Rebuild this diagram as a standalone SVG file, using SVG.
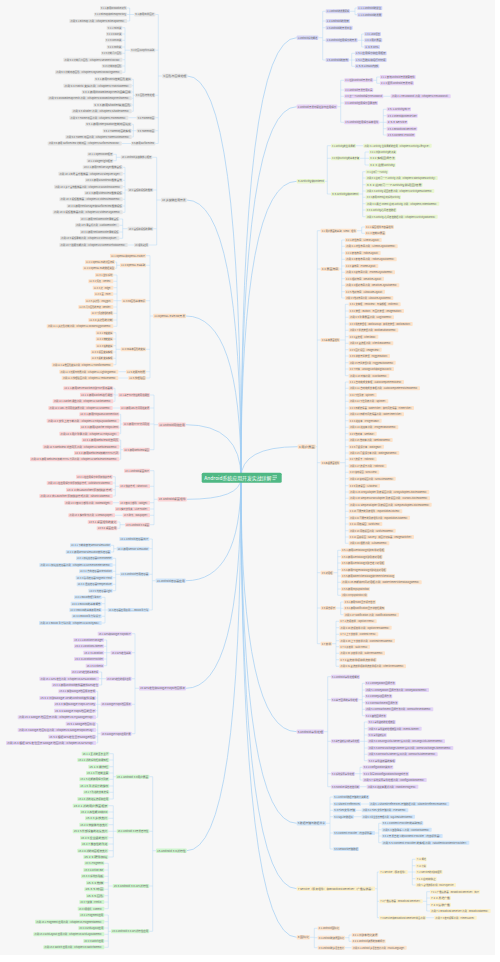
<svg xmlns="http://www.w3.org/2000/svg" width="500" height="962" viewBox="0 0 500 962">
<style>
text{font-family:"Noto Sans CJK SC","Noto Sans",sans-serif;font-size:2.3px;fill:#666}
.c{fill:none;stroke:#9fcdf3;stroke-width:.7}
.b{fill:none;stroke:#b5d8f5;stroke-width:.5}
.k1 rect{fill:#d5d5f6}.k2 rect{fill:#e6d2f6}.k3 rect{fill:#e9f6cf}.k4 rect{fill:#fde2c9}
.k5 rect{fill:#e3d3f6}.k6 rect{fill:#d0e5fa}.k7 rect{fill:#fdf1cb}.k8 rect{fill:#fde4cd}
.k9 rect{fill:#e4e4e4}.k11 rect{fill:#fde2c9}.k12 rect{fill:#fbd3d5}
.k14 rect{fill:#d0e5fa}.k15 rect{fill:#e5d4f7}.k16 rect{fill:#cff6cf}
#center text{font-size:4.9px;fill:#fff}
</style>
<rect width="500" height="962" fill="#fff"/>
<rect width="495" height="955" fill="#f7f7f7"/>
<g id="connectors">
<path class="c" d="M241 478Q241 76 187.3 76M241 478Q241 200 186.7 200M241 478Q241 316 186 316M241 478Q241 424.7 185.7 424.7M241 478Q241 499.3 186.7 499.3M241 478Q241 580.7 185.7 580.7M241 478Q241 688.3 186 688.3M241 478Q241 850.7 186.7 850.7M241 478Q241 37.7 296.7 37.7M241 478Q241 106.7 296.7 106.7M241 478Q241 181.3 296.7 181.3M241 478Q241 446.7 297.7 446.7M241 478Q241 731.7 296.7 731.7M241 478Q241 823.3 296.7 823.3M241 478Q241 888.7 296.7 888.7M241 478Q241 937.3 296.7 937.3"/>
<path class="b" d="M162.3 76H158.3M158.3 14.5V143.5M158.3 14.5H155.3M158.3 50.2H155.3M158.3 95.3H155.3M158.3 117.7H155.3M158.3 130.7H155.3M158.3 143.5H155.3
M134.3 14.5H129.7M129.7 8V21M129.7 8H127M129.7 14.5H127M129.7 21H127
M130.3 50.2H125M125 27.7V72.3M125 27.7H122.3M125 34H122.3M125 40.3H122.3M125 47H122.3M125 53.3H122.3M125 59.7H122.3M125 66H122.3M125 72.3H122.3
M135 95.3H133.3M133.3 79.3V111.3M133.3 79.3H131.7M133.3 85.7H131.7M133.3 92H131.7M133.3 98.3H131.7M133.3 105H131.7M133.3 111.3H131.7
M136.7 117.7H128.3M136.7 130.7H133.3M133.3 124.3V137M133.3 124.3H131.7M133.3 130.7H131.7M133.3 137H131.7M131 143.5H121.7
M161 200H156.7M156.7 157.3V245M156.7 157.3H152.3M156.7 190H153.3M156.7 228.7H153.3M156.7 245H148.7
M120.7 157.3H116.3M116.3 154.3V160.7M116.3 154.3H113.3M116.3 160.7H113.3
M127.7 190H125M125 167.3V212.3M125 167.3H122.7M125 173.7H122.7M125 180.3H122.7M125 186.7H122.7M125 193H122.7M125 199.3H122.7M125 206H122.7M125 212.3H122.7
M127.7 228.7H122.7M122.7 219V238.3M122.7 219H119.3M122.7 225.3H119.3M122.7 232H119.3M122.7 238.3H119.3M134 245H127.7
M153.3 316H150M150 255.7V378M150 255.7H146M150 265.3H146M150 300.7H146M150 349.3H146M150 371.7H146M150 378H146
M120 265.3H116.7M116.7 262V268.3M116.7 262H115M116.7 268.3H115
M121.7 300.7H117M117 275V326.3M117 275H113.3M117 281.3H113.3M117 287.7H113.3M117 294H113.3M117 300.7H113.3M117 307H113.3M117 313.3H113.3M117 320H113.3M117 326.3H113.3
M120.7 349.3H116M116 332.7V364.7M116 332.7H113.3M116 339H113.3M116 345.7H113.3M116 352H113.3M116 358.3H113.3M116 364.7H113.3M126 371.7H118.3M128.3 378H118.3
M158.3 424.7H154M154 395V449.7M154 395H150M154 408H150M154 424H150M154 449.7H150
M118.3 395H115M115 388.3V401.3M115 388.3H113.3M115 394.7H113.3M115 401.3H113.3M120 408H112.7
M122.7 424H120.7M120.7 414.3V433.7M120.7 414.3H119.3M120.7 420.7H119.3M120.7 427.3H119.3M120.7 433.7H119.3
M123.3 449.7H120.7M120.7 440V459.3M120.7 440H119.3M120.7 446.7H119.3M120.7 453H119.3M120.7 459.3H119.3
M157.7 499.3H154M154 470.7V524.7M154 470.7H150M154 486.3H150M154 502.7H150M154 509H150M154 515.3H150M154 524.7H150
M119.3 486.3H115.3M115.3 476.7V496M115.3 476.7H112.7M115.3 483H112.7M115.3 489.7H112.7M115.3 496H112.7M119.3 502.7H112.7M122.7 515.3H115
M125 524.7H120M120 522V528.3M120 522H117.3M120 528.3H117.3
M155.7 580.7H152.3M152.3 539V610M152.3 539H149.3M152.3 548.7H149.3M152.3 574.3H149.3M152.3 610H149.3
M116.7 548.7H113.7M113.7 545.3V552M113.7 545.3H111M113.7 552H111
M120 574.3H115.7M115.7 558.3V590.7M115.7 558.3H112.7M115.7 565H112.7M115.7 571.3H112.7M115.7 577.7H112.7M115.7 584.3H112.7M115.7 590.7H112.7
M107.7 610H105M105 597.3V623M105 597.3H101.7M105 603.7H101.7M105 610H101.7M105 616.3H101.7M105 623H101.7
M139 688.3H135M135 633.7V733.7M135 633.7H131.7M135 652.7H131.7M135 678.7H131.7M135 704.3H131.7M135 733.7H131.7
M110.7 652.7H106.7M106.7 640V665.7M106.7 640H104M106.7 646.3H104M106.7 652.7H104M106.7 659H104M106.7 665.7H104
M106 678.7H101.7M101.7 672V685M101.7 672H99M101.7 678.7H99M101.7 685H99
M100.7 704.3H97.7M97.7 691.3V717.3M97.7 691.3H96M97.7 698H96M97.7 704.3H96M97.7 710.7H96M97.7 717.3H96
M100.7 733.7H97.7M97.7 723.7V743M97.7 723.7H96M97.7 730H96M97.7 736.7H96M97.7 743H96
M156 850.7H152.7M152.7 776.7V931.3M152.7 776.7H149.3M152.7 831.3H149.3M152.7 886H149.3M152.7 931.3H149.3
M116 776.7H113.3M113.3 753.7V799M113.3 753.7H109.3M113.3 760H109.3M113.3 766.7H109.3M113.3 773H109.3M113.3 779.3H109.3M113.3 786H109.3M113.3 792.3H109.3M113.3 799H109.3
M116.7 831.3H113.3M113.3 805.7V857M113.3 805.7H108.3M113.3 812H108.3M113.3 818.3H108.3M113.3 824.7H108.3M113.3 831.3H108.3M113.3 837.7H108.3M113.3 844H108.3M113.3 850.7H108.3M113.3 857H108.3
M112.7 886H108.3M108.3 863.3V908.7M108.3 863.3H104.3M108.3 870H104.3M108.3 876.3H104.3M108.3 882.7H104.3M108.3 889.3H104.3M108.3 895.7H104.3M108.3 902H104.3M108.3 908.7H104.3
M111 931.3H108.3M108.3 915V947.3M108.3 915H104.3M108.3 921.7H104.3M108.3 928H104.3M108.3 934.3H104.3M108.3 941H104.3M108.3 947.3H104.3
M318.3 37.7H322.7M322.7 11.3V60M322.7 11.3H325.7M322.7 21H325.7M322.7 27.7H325.7M322.7 40.3H325.7M322.7 60H325.7
M350 11.3H355M355 8V14.7M355 8H357.3M355 14.7H357.3
M357.7 40.3H361.7M361.7 34V47M361.7 34H364.3M361.7 40.3H364.3M361.7 47H364.3
M349 60H351.7M351.7 53.3V66.3M351.7 53.3H355M351.7 60H355M351.7 66.3H355
M337.3 106.7H340.7M340.7 80.3V122.3M340.7 80.3H344.3M340.7 90H344.3M340.7 96.3H344.3M340.7 103H344.3M340.7 122.3H344.3
M373.3 80.3H376.7M376.7 77V83.3M376.7 77H380M376.7 83.3H380M383.3 96.3H390.7
M379.3 122.3H383.3M383.3 109.3V135M383.3 109.3H386.7M383.3 115.7H386.7M383.3 122.3H386.7M383.3 128.7H386.7M383.3 135H386.7
M325 181.3H327.3M327.3 145.7V194M327.3 145.7H331M327.3 158.3H331M327.3 194H331M356 145.7H363.3
M360 158.3H365M365 152V165M365 152H369M365 158.3H369M365 165H369
M359.3 194H362.7M362.7 171.7V216.7M362.7 171.7H365.7M362.7 178H365.7M362.7 184.7H365.7M362.7 191H365.7M362.7 197.3H365.7M362.7 203.7H365.7M362.7 210H365.7M362.7 216.7H365.7
M315.7 446.7H317.3M317.3 230.7V643.7M317.3 230.7H320.7M317.3 269H320.7M317.3 340H320.7M317.3 462.7H320.7M317.3 572.7H320.7M317.3 608H320.7M317.3 643.7H320.7
M356.7 230.7H361.7M361.7 227V233.3M361.7 227H365M361.7 233.3H365
M339.3 269H341.7M341.7 240V298M341.7 240H345M341.7 246.3H345M341.7 253H345M341.7 259.3H345M341.7 266H345M341.7 272.3H345M341.7 278.7H345M341.7 285.3H345M341.7 291.7H345M341.7 298H345
M340 340H345.3M345.3 304.3V375.7M345.3 304.3H348.7M345.3 311H348.7M345.3 317.3H348.7M345.3 324H348.7M345.3 330.3H348.7M345.3 336.7H348.7M345.3 343.3H348.7M345.3 349.7H348.7M345.3 356H348.7M345.3 362.7H348.7M345.3 369H348.7M345.3 375.7H348.7
M340 462.7H345.3M345.3 382V543.3M345.3 382H348.7M345.3 388.3H348.7M345.3 395H348.7M345.3 401.3H348.7M345.3 408H348.7M345.3 414.3H348.7M345.3 420.7H348.7M345.3 427.3H348.7M345.3 433.7H348.7M345.3 440H348.7M345.3 446.7H348.7M345.3 453H348.7M345.3 459.3H348.7M345.3 466H348.7M345.3 472.3H348.7M345.3 478.7H348.7M345.3 485.7H348.7M345.3 492H348.7M345.3 498.3H348.7M345.3 504.7H348.7M345.3 511.3H348.7M345.3 517.7H348.7M345.3 524H348.7M345.3 530.7H348.7M345.3 537H348.7M345.3 543.3H348.7
M333.3 572.7H337.7M337.7 550.3V595.3M337.7 550.3H341M337.7 556.7H341M337.7 563H341M337.7 569.7H341M337.7 576H341M337.7 582.3H341M337.7 589H341M337.7 595.3H341
M336 608H340.7M340.7 602V614.7M340.7 602H343.7M340.7 608.3H343.7M340.7 614.7H343.7
M332 643.7H336M336 621.3V666.3M336 621.3H339.3M336 627.7H339.3M336 634.3H339.3M336 640.7H339.3M336 646.7H339.3M336 653.3H339.3M336 659.7H339.3M336 666.3H339.3
M324 731.7H327.7M327.7 676.7V786.7M327.7 676.7H331M327.7 699.7H331M327.7 741.3H331M327.7 773.7H331M327.7 786.7H331
M358.3 699.7H362.3M362.3 683.3V715.7M362.3 683.3H365M362.3 690H365M362.3 696.3H365M362.3 702.7H365M362.3 709.3H365M362.3 715.7H365
M360 741.3H364.3M364.3 722V760.7M364.3 722H367.7M364.3 728.7H367.7M364.3 735H367.7M364.3 741.3H367.7M364.3 748H367.7M364.3 754.3H367.7M364.3 760.7H367.7
M355 773.7H360M360 767.3V780M360 767.3H362.7M360 773.7H362.7M360 780H362.7M360 786.7H366.7
M326 823.3H330M330 797V849M330 797H333.3M330 804H333.3M330 810.3H333.3M330 816.7H333.3M330 833H333.3M330 849H333.3
M361 804H369M356 810.3H361.7M354 816.7H361.7
M375 833H378.7M378.7 823.3V842.7M378.7 823.3H381.7M378.7 829.7H381.7M378.7 836H381.7M378.7 842.7H381.7
M375 888.7H377.3M377.3 872V917.7M377.3 872H379.3M377.3 901.3H379.3M377.3 917.7H379.3
M407.7 872H412.3M412.3 859.3V885M412.3 859.3H415.7M412.3 865.7H415.7M412.3 872H415.7M412.3 878.7H415.7M412.3 885H415.7
M422.7 901.3H426.7M426.7 891.7V911M426.7 891.7H430M426.7 898H430M426.7 904.7H430M426.7 911H430M426 917.7H434.3
M310 937.3H314.3M314.3 928.3V947.7M314.3 928.3H317.7M314.3 937.7H317.7M314.3 947.7H317.7
M345 937.7H349M349 935V941.3M349 935H351.7M349 941.3H351.7M345 947.7H351.7"/>
</g>
<g id="nodes">
<g class="k9">
<g id="n9" transform="translate(162.3,76)"><rect y="-2.2" width="25" height="4.4" rx=".8"/><text x="1" y=".8" textLength="23" lengthAdjust="spacingAndGlyphs">9 图形与图像处理</text></g>
<g id="n9-1" transform="translate(134.3,14.5)"><rect y="-2" width="21" height="4" rx=".8"/><text x="1" y=".8" textLength="19" lengthAdjust="spacingAndGlyphs">9.1 使用简单图片</text></g>
<g id="n9-1-1" transform="translate(100,8)"><rect y="-2" width="27" height="4" rx=".8"/><text x="1" y=".8" textLength="25" lengthAdjust="spacingAndGlyphs">9.1.1 使用Drawable对象</text></g>
<g id="n9-1-2" transform="translate(94,14.5)"><rect y="-2" width="33" height="4" rx=".8"/><text x="1" y=".8" textLength="31" lengthAdjust="spacingAndGlyphs">9.1.2 Bitmap和BitmapFactory</text></g>
<g id="e9-1" transform="translate(69.3,21)"><rect y="-2" width="57.7" height="4" rx=".8"/><text x="1" y=".8" textLength="55.7" lengthAdjust="spacingAndGlyphs">范例 9.1 Bitmap 范例（Chapter9/BitmapDemo）</text></g>
<g id="n9-2" transform="translate(130.3,50.2)"><rect y="-2" width="25" height="4" rx=".8"/><text x="1" y=".8" textLength="23" lengthAdjust="spacingAndGlyphs">9.2 绘图(Graphics)基础</text></g>
<g id="n9-2-1" transform="translate(106.7,27.7)"><rect y="-2" width="15.6" height="4" rx=".8"/><text x="1" y=".8" textLength="13.6" lengthAdjust="spacingAndGlyphs">9.2.1 Paint类</text></g>
<g id="n9-2-2" transform="translate(106,34)"><rect y="-2" width="16.3" height="4" rx=".8"/><text x="1" y=".8" textLength="14.3" lengthAdjust="spacingAndGlyphs">9.2.2 Color类</text></g>
<g id="n9-2-3" transform="translate(105,40.3)"><rect y="-2" width="17.3" height="4" rx=".8"/><text x="1" y=".8" textLength="15.3" lengthAdjust="spacingAndGlyphs">9.2.3 Canvas类</text></g>
<g id="n9-2-4" transform="translate(106.7,47)"><rect y="-2" width="15.6" height="4" rx=".8"/><text x="1" y=".8" textLength="13.6" lengthAdjust="spacingAndGlyphs">9.2.4 Path类</text></g>
<g id="n9-2-5" transform="translate(101,53.3)"><rect y="-2" width="21.3" height="4" rx=".8"/><text x="1" y=".8" textLength="19.3" lengthAdjust="spacingAndGlyphs">9.2.5 绘制几何图形</text></g>
<g id="e9-2" transform="translate(63.3,59.7)"><rect y="-2" width="59" height="4" rx=".8"/><text x="1" y=".8" textLength="57" lengthAdjust="spacingAndGlyphs">范例 9.2 绘制几何图形（Chapter9/GeometricDraw）</text></g>
<g id="n9-2-6" transform="translate(101.7,66)"><rect y="-2" width="20.6" height="4" rx=".8"/><text x="1" y=".8" textLength="18.6" lengthAdjust="spacingAndGlyphs">9.2.6 绘制动态图形</text></g>
<g id="e9-3" transform="translate(55,72.3)"><rect y="-2" width="67.3" height="4" rx=".8"/><text x="1" y=".8" textLength="65.3" lengthAdjust="spacingAndGlyphs">范例 9.3 绘制动态图形（Chapter9/DynamicDrawingDemo）</text></g>
<g id="n9-3" transform="translate(135,95.3)"><rect y="-2" width="20.3" height="4" rx=".8"/><text x="1" y=".8" textLength="18.3" lengthAdjust="spacingAndGlyphs">9.3 图形特效处理</text></g>
<g id="n9-3-1" transform="translate(94.3,79.3)"><rect y="-2" width="37.4" height="4" rx=".8"/><text x="1" y=".8" textLength="35.4" lengthAdjust="spacingAndGlyphs">9.3.1 使用Matrix控制图形变换</text></g>
<g id="e9-4" transform="translate(63.3,85.7)"><rect y="-2" width="68.4" height="4" rx=".8"/><text x="1" y=".8" textLength="66.4" lengthAdjust="spacingAndGlyphs">范例 9.4 Matrix 变换范例（Chapter9/MatrixDemo）</text></g>
<g id="n9-3-2" transform="translate(81.7,92)"><rect y="-2" width="50" height="4" rx=".8"/><text x="1" y=".8" textLength="48" lengthAdjust="spacingAndGlyphs">9.3.2 使用drawBitmapMesh扭曲图像</text></g>
<g id="e9-5" transform="translate(47.7,98.3)"><rect y="-2" width="84" height="4" rx=".8"/><text x="1" y=".8" textLength="82" lengthAdjust="spacingAndGlyphs">范例 9.5 DrawBitmapMesh 范例（Chapter9/DrawBitmapMeshDemo）</text></g>
<g id="n9-3-3" transform="translate(93.3,105)"><rect y="-2" width="38.4" height="4" rx=".8"/><text x="1" y=".8" textLength="36.4" lengthAdjust="spacingAndGlyphs">9.3.3 使用Shader填充图形</text></g>
<g id="e9-6" transform="translate(71.7,111.3)"><rect y="-2" width="60" height="4" rx=".8"/><text x="1" y=".8" textLength="58" lengthAdjust="spacingAndGlyphs">范例 9.6 Shader 范例（Chapter9/ShaderDemo）</text></g>
<g id="n9-4" transform="translate(136.7,117.7)"><rect y="-2" width="18.6" height="4" rx=".8"/><text x="1" y=".8" textLength="16.6" lengthAdjust="spacingAndGlyphs">9.4 Frame动画</text></g>
<g id="e9-7" transform="translate(69.3,117.7)"><rect y="-2" width="59" height="4" rx=".8"/><text x="1" y=".8" textLength="57" lengthAdjust="spacingAndGlyphs">范例 9.7 Frame 动画范例（Chapter9/FrameDemo）</text></g>
<g id="n9-5" transform="translate(136.7,130.7)"><rect y="-2" width="18.6" height="4" rx=".8"/><text x="1" y=".8" textLength="16.6" lengthAdjust="spacingAndGlyphs">9.5 Tween动画</text></g>
<g id="n9-5-1" transform="translate(85.3,124.3)"><rect y="-2" width="46.4" height="4" rx=".8"/><text x="1" y=".8" textLength="44.4" lengthAdjust="spacingAndGlyphs">9.5.1 使用Interpolator控制动画速度</text></g>
<g id="n9-5-2" transform="translate(102.7,130.7)"><rect y="-2" width="29" height="4" rx=".8"/><text x="1" y=".8" textLength="27" lengthAdjust="spacingAndGlyphs">9.5.2 Tween动画的实现</text></g>
<g id="e9-8" transform="translate(65.3,137)"><rect y="-2" width="66.4" height="4" rx=".8"/><text x="1" y=".8" textLength="64.4" lengthAdjust="spacingAndGlyphs">范例 9.8 Tween 动画范例（Chapter9/TweenAnimDemo）</text></g>
<g id="n9-6" transform="translate(131,143.5)"><rect y="-2" width="24.3" height="4" rx=".8"/><text x="1" y=".8" textLength="22.3" lengthAdjust="spacingAndGlyphs">9.6 使用SurfaceView</text></g>
<g id="e9-9" transform="translate(47.7,143.5)"><rect y="-2" width="74" height="4" rx=".8"/><text x="1" y=".8" textLength="72" lengthAdjust="spacingAndGlyphs">范例 9.9 使用 SurfaceView 绘制动画（Chapter9/SurfaceViewDraw）</text></g>
<g id="n10" transform="translate(161,200)"><rect y="-2.2" width="25.7" height="4.4" rx=".8"/><text x="1" y=".8" textLength="23.7" lengthAdjust="spacingAndGlyphs">10 多媒体应用开发</text></g>
<g id="n10-1" transform="translate(120.7,157.3)"><rect y="-2" width="31.6" height="4" rx=".8"/><text x="1" y=".8" textLength="29.6" lengthAdjust="spacingAndGlyphs">10.1 Android多媒体核心框架</text></g>
<g id="n10-1-1" transform="translate(87.3,154.3)"><rect y="-2" width="26" height="4" rx=".8"/><text x="1" y=".8" textLength="24" lengthAdjust="spacingAndGlyphs">10.1.1 OpenCORE框架</text></g>
<g id="n10-1-2" transform="translate(86.7,160.7)"><rect y="-2" width="26.6" height="4" rx=".8"/><text x="1" y=".8" textLength="24.6" lengthAdjust="spacingAndGlyphs">10.1.2 StageFright框架</text></g>
<g id="n10-2" transform="translate(127.7,190)"><rect y="-2" width="25.6" height="4" rx=".8"/><text x="1" y=".8" textLength="23.6" lengthAdjust="spacingAndGlyphs">10.2 音频和视频的播放</text></g>
<g id="n10-2-1" transform="translate(82.7,167.3)"><rect y="-2" width="40" height="4" rx=".8"/><text x="1" y=".8" textLength="38" lengthAdjust="spacingAndGlyphs">10.2.1 使用MediaPlayer播放音频</text></g>
<g id="e10-1" transform="translate(58.3,173.7)"><rect y="-2" width="64.4" height="4" rx=".8"/><text x="1" y=".8" textLength="62.4" lengthAdjust="spacingAndGlyphs">范例 10.1 简易音乐播放器（Chapter10/SimplePlayer）</text></g>
<g id="n10-2-2" transform="translate(85,180.3)"><rect y="-2" width="37.7" height="4" rx=".8"/><text x="1" y=".8" textLength="35.7" lengthAdjust="spacingAndGlyphs">10.2.2 使用SoundPool播放音效</text></g>
<g id="e10-2" transform="translate(54,186.7)"><rect y="-2" width="68.7" height="4" rx=".8"/><text x="1" y=".8" textLength="66.7" lengthAdjust="spacingAndGlyphs">范例 10.2 多个音效播放器范例（Chapter10/SoundPoolDemo）</text></g>
<g id="n10-2-3" transform="translate(84.3,193)"><rect y="-2" width="38.4" height="4" rx=".8"/><text x="1" y=".8" textLength="36.4" lengthAdjust="spacingAndGlyphs">10.2.3 使用VideoView播放视频</text></g>
<g id="e10-3" transform="translate(59.3,199.3)"><rect y="-2" width="63.4" height="4" rx=".8"/><text x="1" y=".8" textLength="61.4" lengthAdjust="spacingAndGlyphs">范例 10.3 视频播放器（Chapter10/VideoViewDemo）</text></g>
<g id="n10-2-4" transform="translate(66.7,206)"><rect y="-2" width="56" height="4" rx=".8"/><text x="1" y=".8" textLength="54" lengthAdjust="spacingAndGlyphs">10.2.4 使用MediaPlayer和SurfaceView播放视频</text></g>
<g id="e10-4" transform="translate(52.7,212.3)"><rect y="-2" width="70" height="4" rx=".8"/><text x="1" y=".8" textLength="68" lengthAdjust="spacingAndGlyphs">范例 10.4 视频播放器范例（Chapter10/VideoPlayDemo）</text></g>
<g id="n10-3" transform="translate(127.7,228.7)"><rect y="-2" width="25.6" height="4" rx=".8"/><text x="1" y=".8" textLength="23.6" lengthAdjust="spacingAndGlyphs">10.3 音频和视频的录制</text></g>
<g id="n10-3-1" transform="translate(80,219)"><rect y="-2" width="39.3" height="4" rx=".8"/><text x="1" y=".8" textLength="37.3" lengthAdjust="spacingAndGlyphs">10.3.1 使用MediaRecorder录制音频</text></g>
<g id="e10-5" transform="translate(75,225.3)"><rect y="-2" width="44.3" height="4" rx=".8"/><text x="1" y=".8" textLength="42.3" lengthAdjust="spacingAndGlyphs">范例 10.5 录音机范例（AudioRecorder）</text></g>
<g id="n10-3-2" transform="translate(80,232)"><rect y="-2" width="39.3" height="4" rx=".8"/><text x="1" y=".8" textLength="37.3" lengthAdjust="spacingAndGlyphs">10.3.2 使用MediaRecorder录制视频</text></g>
<g id="e10-6" transform="translate(60,238.3)"><rect y="-2" width="59.3" height="4" rx=".8"/><text x="1" y=".8" textLength="57.3" lengthAdjust="spacingAndGlyphs">范例 10.6 视频录制范例（Chapter10/VideoCapture）</text></g>
<g id="n10-4" transform="translate(134,245)"><rect y="-2" width="14.7" height="4" rx=".8"/><text x="1" y=".8" textLength="12.7" lengthAdjust="spacingAndGlyphs">10.4 摄像头应用</text></g>
<g id="e10-7" transform="translate(59.3,245)"><rect y="-2" width="68.4" height="4" rx=".8"/><text x="1" y=".8" textLength="66.4" lengthAdjust="spacingAndGlyphs">范例 10.7 拍照功能范例（Chapter10/CameraPhotoDemo）</text></g>
</g>
<g class="k11">
<g id="n11" transform="translate(153.3,316)"><rect y="-2.2" width="32.7" height="4.4" rx=".8"/><text x="1" y=".8" textLength="30.7" lengthAdjust="spacingAndGlyphs">11 OpenGL ES与3D开发</text></g>
<g id="n11-1" transform="translate(110,255.7)"><rect y="-2" width="36" height="4" rx=".8"/><text x="1" y=".8" textLength="34" lengthAdjust="spacingAndGlyphs">11.1 OpenGL和OpenGL ES简介</text></g>
<g id="n11-2" transform="translate(120,265.3)"><rect y="-2" width="26" height="4" rx=".8"/><text x="1" y=".8" textLength="24" lengthAdjust="spacingAndGlyphs">11.2 OpenGL ES基础</text></g>
<g id="n11-2-1" transform="translate(85,262)"><rect y="-2" width="30" height="4" rx=".8"/><text x="1" y=".8" textLength="28" lengthAdjust="spacingAndGlyphs">11.2.1 OpenGL ES的绘图流程</text></g>
<g id="n11-2-2" transform="translate(82.7,268.3)"><rect y="-2" width="32.3" height="4" rx=".8"/><text x="1" y=".8" textLength="30.3" lengthAdjust="spacingAndGlyphs">11.2.2 OpenGL ES的数据类型</text></g>
<g id="n11-3" transform="translate(121.7,300.7)"><rect y="-2" width="24.3" height="4" rx=".8"/><text x="1" y=".8" textLength="22.3" lengthAdjust="spacingAndGlyphs">11.3 3D图形基本知识</text></g>
<g id="n11-3-1" transform="translate(95,275)"><rect y="-2" width="18.3" height="4" rx=".8"/><text x="1" y=".8" textLength="16.3" lengthAdjust="spacingAndGlyphs">11.3.1 坐标系统</text></g>
<g id="n11-3-2" transform="translate(88.3,281.3)"><rect y="-2" width="25" height="4" rx=".8"/><text x="1" y=".8" textLength="23" lengthAdjust="spacingAndGlyphs">11.3.2 顶点（Vertex）</text></g>
<g id="n11-3-3" transform="translate(92.7,287.7)"><rect y="-2" width="20.6" height="4" rx=".8"/><text x="1" y=".8" textLength="18.6" lengthAdjust="spacingAndGlyphs">11.3.3 边（Edge）</text></g>
<g id="n11-3-4" transform="translate(94,294)"><rect y="-2" width="19.3" height="4" rx=".8"/><text x="1" y=".8" textLength="17.3" lengthAdjust="spacingAndGlyphs">11.3.4 面（Face）</text></g>
<g id="n11-3-5" transform="translate(85,300.7)"><rect y="-2" width="28.3" height="4" rx=".8"/><text x="1" y=".8" textLength="26.3" lengthAdjust="spacingAndGlyphs">11.3.5 多边形（Polygon）</text></g>
<g id="n11-3-6" transform="translate(78.3,307)"><rect y="-2" width="35" height="4" rx=".8"/><text x="1" y=".8" textLength="33" lengthAdjust="spacingAndGlyphs">11.3.6 几何图形的渲染（Render）</text></g>
<g id="n11-3-7" transform="translate(90.7,313.3)"><rect y="-2" width="22.6" height="4" rx=".8"/><text x="1" y=".8" textLength="20.6" lengthAdjust="spacingAndGlyphs">11.3.7 顶点数组的使用</text></g>
<g id="n11-3-8" transform="translate(88.3,320)"><rect y="-2" width="25" height="4" rx=".8"/><text x="1" y=".8" textLength="23" lengthAdjust="spacingAndGlyphs">11.3.8 多边形的绘制</text></g>
<g id="e11-1" transform="translate(46.7,326.3)"><rect y="-2" width="66.6" height="4" rx=".8"/><text x="1" y=".8" textLength="64.6" lengthAdjust="spacingAndGlyphs">范例 11.1 多边形绘制范例（Chapter11/DrawPolygonDemo）</text></g>
<g id="n11-4" transform="translate(120.7,349.3)"><rect y="-2" width="25.3" height="4" rx=".8"/><text x="1" y=".8" textLength="23.3" lengthAdjust="spacingAndGlyphs">11.4 3D基本图形的变换</text></g>
<g id="n11-4-1" transform="translate(95.7,332.7)"><rect y="-2" width="17.6" height="4" rx=".8"/><text x="1" y=".8" textLength="15.6" lengthAdjust="spacingAndGlyphs">11.4.1 平移变换</text></g>
<g id="n11-4-2" transform="translate(95.7,339)"><rect y="-2" width="17.6" height="4" rx=".8"/><text x="1" y=".8" textLength="15.6" lengthAdjust="spacingAndGlyphs">11.4.2 旋转变换</text></g>
<g id="n11-4-3" transform="translate(95.7,345.7)"><rect y="-2" width="17.6" height="4" rx=".8"/><text x="1" y=".8" textLength="15.6" lengthAdjust="spacingAndGlyphs">11.4.3 缩放变换</text></g>
<g id="n11-4-4" transform="translate(90.7,352)"><rect y="-2" width="22.6" height="4" rx=".8"/><text x="1" y=".8" textLength="20.6" lengthAdjust="spacingAndGlyphs">11.4.4 视图变换实现</text></g>
<g id="n11-4-5" transform="translate(90.7,358.3)"><rect y="-2" width="22.6" height="4" rx=".8"/><text x="1" y=".8" textLength="20.6" lengthAdjust="spacingAndGlyphs">11.4.5 投影变换实现</text></g>
<g id="e11-2" transform="translate(51.7,364.7)"><rect y="-2" width="61.6" height="4" rx=".8"/><text x="1" y=".8" textLength="59.6" lengthAdjust="spacingAndGlyphs">范例 11.2 三维图形变换范例（Chapter11/TransformDemo）</text></g>
<g id="n11-5" transform="translate(126,371.7)"><rect y="-2" width="20" height="4" rx=".8"/><text x="1" y=".8" textLength="18" lengthAdjust="spacingAndGlyphs">11.5 光照与材质</text></g>
<g id="e11-3" transform="translate(59.3,371.7)"><rect y="-2" width="59" height="4" rx=".8"/><text x="1" y=".8" textLength="57" lengthAdjust="spacingAndGlyphs">范例 11.3 光照与材质范例（Chapter11/LightingDemo）</text></g>
<g id="n11-6" transform="translate(128.3,378)"><rect y="-2" width="17.7" height="4" rx=".8"/><text x="1" y=".8" textLength="15.7" lengthAdjust="spacingAndGlyphs">11.6 纹理贴图</text></g>
<g id="e11-4" transform="translate(61.7,378)"><rect y="-2" width="56.6" height="4" rx=".8"/><text x="1" y=".8" textLength="54.6" lengthAdjust="spacingAndGlyphs">范例 11.4 纹理贴图范例（Chapter11/TextureDemo）</text></g>
</g>
<g class="k12">
<g id="n12" transform="translate(158.3,424.7)"><rect y="-2.2" width="27.4" height="4.4" rx=".8"/><text x="1" y=".8" textLength="25.4" lengthAdjust="spacingAndGlyphs">12 Android网络应用</text></g>
<g id="n12-1" transform="translate(118.3,395)"><rect y="-2" width="31.7" height="4" rx=".8"/><text x="1" y=".8" textLength="29.7" lengthAdjust="spacingAndGlyphs">12.1 基于TCP协议的网络通信</text></g>
<g id="n12-1-1" transform="translate(63.3,388.3)"><rect y="-2" width="50" height="4" rx=".8"/><text x="1" y=".8" textLength="48" lengthAdjust="spacingAndGlyphs">12.1.1 使用ServerSocket创建TCP服务器端</text></g>
<g id="n12-1-2" transform="translate(80,394.7)"><rect y="-2" width="33.3" height="4" rx=".8"/><text x="1" y=".8" textLength="31.3" lengthAdjust="spacingAndGlyphs">12.1.2 使用Socket进行通信</text></g>
<g id="e12-1" transform="translate(52.7,401.3)"><rect y="-2" width="60.6" height="4" rx=".8"/><text x="1" y=".8" textLength="58.6" lengthAdjust="spacingAndGlyphs">范例 12.1 Socket 通信范例（Chapter12/SocketDemo）</text></g>
<g id="n12-2" transform="translate(120,408)"><rect y="-2" width="30" height="4" rx=".8"/><text x="1" y=".8" textLength="28" lengthAdjust="spacingAndGlyphs">12.2 使用URL访问网络资源</text></g>
<g id="e12-2" transform="translate(48.3,408)"><rect y="-2" width="64.4" height="4" rx=".8"/><text x="1" y=".8" textLength="62.4" lengthAdjust="spacingAndGlyphs">范例 12.2 URL 访问网络资源范例（Chapter12/UrlDemo）</text></g>
<g id="n12-3" transform="translate(122.7,424)"><rect y="-2" width="27.3" height="4" rx=".8"/><text x="1" y=".8" textLength="25.3" lengthAdjust="spacingAndGlyphs">12.3 使用HTTP访问网络</text></g>
<g id="n12-3-1" transform="translate(79.3,414.3)"><rect y="-2" width="40" height="4" rx=".8"/><text x="1" y=".8" textLength="38" lengthAdjust="spacingAndGlyphs">12.3.1 使用HttpURLConnection</text></g>
<g id="e12-3" transform="translate(46.7,420.7)"><rect y="-2" width="72.6" height="4" rx=".8"/><text x="1" y=".8" textLength="70.6" lengthAdjust="spacingAndGlyphs">范例 12.3 文件上传下载范例（Chapter12/HttpUploadDemo）</text></g>
<g id="n12-3-2" transform="translate(80,427.3)"><rect y="-2" width="39.3" height="4" rx=".8"/><text x="1" y=".8" textLength="37.3" lengthAdjust="spacingAndGlyphs">12.3.2 使用Apache HttpClient</text></g>
<g id="e12-4" transform="translate(59.3,433.7)"><rect y="-2" width="60" height="4" rx=".8"/><text x="1" y=".8" textLength="58" lengthAdjust="spacingAndGlyphs">范例 12.4 用户登录范例（Chapter12/HttpLogin）</text></g>
<g id="n12-4" transform="translate(123.3,449.7)"><rect y="-2" width="26.7" height="4" rx=".8"/><text x="1" y=".8" textLength="24.7" lengthAdjust="spacingAndGlyphs">12.4 使用WebView视图</text></g>
<g id="n12-4-1" transform="translate(81.7,440)"><rect y="-2" width="37.6" height="4" rx=".8"/><text x="1" y=".8" textLength="35.6" lengthAdjust="spacingAndGlyphs">12.4.1 使用WebView浏览网页</text></g>
<g id="e12-5" transform="translate(42.7,446.7)"><rect y="-2" width="76.6" height="4" rx=".8"/><text x="1" y=".8" textLength="74.6" lengthAdjust="spacingAndGlyphs">范例 12.5 WebView 浏览网页范例（Chapter12/WebViewDemo）</text></g>
<g id="n12-4-2" transform="translate(74,453)"><rect y="-2" width="45.3" height="4" rx=".8"/><text x="1" y=".8" textLength="43.3" lengthAdjust="spacingAndGlyphs">12.4.2 使用WebView加载HTML代码</text></g>
<g id="e12-6" transform="translate(30,459.3)"><rect y="-2" width="89.3" height="4" rx=".8"/><text x="1" y=".8" textLength="87.3" lengthAdjust="spacingAndGlyphs">范例 12.6 使用 WebView 加载 HTML 代码范例（Chapter12/WebViewHtmlDemo）</text></g>
<g id="n13" transform="translate(157.7,499.3)"><rect y="-2.2" width="29" height="4.4" rx=".8"/><text x="1" y=".8" textLength="27" lengthAdjust="spacingAndGlyphs">13 Android桌面组件</text></g>
<g id="n13-1" transform="translate(124,470.7)"><rect y="-2" width="26" height="4" rx=".8"/><text x="1" y=".8" textLength="24" lengthAdjust="spacingAndGlyphs">13.1 Android桌面简介</text></g>
<g id="n13-2" transform="translate(119.3,486.3)"><rect y="-2" width="30.7" height="4" rx=".8"/><text x="1" y=".8" textLength="28.7" lengthAdjust="spacingAndGlyphs">13.2 快捷方式（Shortcut）</text></g>
<g id="n13-2-1" transform="translate(76,476.7)"><rect y="-2" width="36.7" height="4" rx=".8"/><text x="1" y=".8" textLength="34.7" lengthAdjust="spacingAndGlyphs">13.2.1 在应用程序中添加快捷方式</text></g>
<g id="e13-1" transform="translate(46.7,483)"><rect y="-2" width="66" height="4" rx=".8"/><text x="1" y=".8" textLength="64" lengthAdjust="spacingAndGlyphs">范例 13.1 在应用程序中添加快捷方式（AddShortcutDemo）</text></g>
<g id="n13-2-2" transform="translate(66,489.7)"><rect y="-2" width="46.7" height="4" rx=".8"/><text x="1" y=".8" textLength="44.7" lengthAdjust="spacingAndGlyphs">13.2.2 向Launcher添加快捷方式</text></g>
<g id="e13-2" transform="translate(39.3,496)"><rect y="-2" width="73.4" height="4" rx=".8"/><text x="1" y=".8" textLength="71.4" lengthAdjust="spacingAndGlyphs">范例 13.2 向 Launcher 添加快捷方式范例（ShortcutDemo）</text></g>
<g id="n13-3" transform="translate(119.3,502.7)"><rect y="-2" width="30.7" height="4" rx=".8"/><text x="1" y=".8" textLength="28.7" lengthAdjust="spacingAndGlyphs">13.3 窗口小部件（Widget）</text></g>
<g id="e13-3" transform="translate(64.3,502.7)"><rect y="-2" width="48.4" height="4" rx=".8"/><text x="1" y=".8" textLength="46.4" lengthAdjust="spacingAndGlyphs">范例 13.3 窗口小部件范例（NoteWidget）</text></g>
<g id="n13-4" transform="translate(115,509)"><rect y="-2" width="35" height="4" rx=".8"/><text x="1" y=".8" textLength="33" lengthAdjust="spacingAndGlyphs">13.4 实时文件夹（Live Folder）</text></g>
<g id="n13-5" transform="translate(122.7,515.3)"><rect y="-2" width="27.3" height="4" rx=".8"/><text x="1" y=".8" textLength="25.3" lengthAdjust="spacingAndGlyphs">13.5 壁纸（Wallpaper）</text></g>
<g id="e13-4" transform="translate(68.3,515.3)"><rect y="-2" width="46.7" height="4" rx=".8"/><text x="1" y=".8" textLength="44.7" lengthAdjust="spacingAndGlyphs">范例 13.4 实时壁纸范例（LiveWallpaper）</text></g>
<g id="n13-6" transform="translate(125,524.7)"><rect y="-2" width="25" height="4" rx=".8"/><text x="1" y=".8" textLength="23" lengthAdjust="spacingAndGlyphs">13.6 Android 3.0桌面</text></g>
<g id="n13-6-1" transform="translate(87.7,522)"><rect y="-2" width="29.6" height="4" rx=".8"/><text x="1" y=".8" textLength="27.6" lengthAdjust="spacingAndGlyphs">13.6.1 桌面组件的变化</text></g>
<g id="n13-6-2" transform="translate(96.7,528.3)"><rect y="-2" width="20.6" height="4" rx=".8"/><text x="1" y=".8" textLength="18.6" lengthAdjust="spacingAndGlyphs">13.6.2 桌面应用</text></g>
</g>
<g class="k14">
<g id="n14" transform="translate(155.7,580.7)"><rect y="-2.2" width="30" height="4.4" rx=".8"/><text x="1" y=".8" textLength="28" lengthAdjust="spacingAndGlyphs">14 Android传感器应用</text></g>
<g id="n14-1" transform="translate(119.3,539)"><rect y="-2" width="30" height="4" rx=".8"/><text x="1" y=".8" textLength="28" lengthAdjust="spacingAndGlyphs">14.1 Android传感器简介</text></g>
<g id="n14-2" transform="translate(116.7,548.7)"><rect y="-2" width="32.6" height="4" rx=".8"/><text x="1" y=".8" textLength="30.6" lengthAdjust="spacingAndGlyphs">14.2 使用Sensor Simulator</text></g>
<g id="n14-2-1" transform="translate(70,545.3)"><rect y="-2" width="41" height="4" rx=".8"/><text x="1" y=".8" textLength="39" lengthAdjust="spacingAndGlyphs">14.2.1 下载和安装SensorSimulator</text></g>
<g id="n14-2-2" transform="translate(65.7,552)"><rect y="-2" width="45.3" height="4" rx=".8"/><text x="1" y=".8" textLength="43.3" lengthAdjust="spacingAndGlyphs">14.2.2 使用SensorSimulator模拟传感器</text></g>
<g id="n14-3" transform="translate(120,574.3)"><rect y="-2" width="29.3" height="4" rx=".8"/><text x="1" y=".8" textLength="27.3" lengthAdjust="spacingAndGlyphs">14.3 Android常用传感器</text></g>
<g id="n14-3-1" transform="translate(76,558.3)"><rect y="-2" width="36.7" height="4" rx=".8"/><text x="1" y=".8" textLength="34.7" lengthAdjust="spacingAndGlyphs">14.3.1 加速度传感器Accelerometer</text></g>
<g id="e14-1" transform="translate(39.3,565)"><rect y="-2" width="73.4" height="4" rx=".8"/><text x="1" y=".8" textLength="71.4" lengthAdjust="spacingAndGlyphs">范例 14.1 加速度传感器范例（Chapter14/AccelerometerDemo）</text></g>
<g id="n14-3-2" transform="translate(79,571.3)"><rect y="-2" width="33.7" height="4" rx=".8"/><text x="1" y=".8" textLength="31.7" lengthAdjust="spacingAndGlyphs">14.3.2 方向传感器Orientation</text></g>
<g id="n14-3-3" transform="translate(75.7,577.7)"><rect y="-2" width="37" height="4" rx=".8"/><text x="1" y=".8" textLength="35" lengthAdjust="spacingAndGlyphs">14.3.3 磁场传感器Magnetic Field</text></g>
<g id="n14-3-4" transform="translate(76.7,584.3)"><rect y="-2" width="36" height="4" rx=".8"/><text x="1" y=".8" textLength="34" lengthAdjust="spacingAndGlyphs">14.3.4 温度传感器Temperature</text></g>
<g id="n14-3-5" transform="translate(88.3,590.7)"><rect y="-2" width="24.4" height="4" rx=".8"/><text x="1" y=".8" textLength="22.4" lengthAdjust="spacingAndGlyphs">14.3.5 光传感器Light</text></g>
<g id="n14-4" transform="translate(107.7,610)"><rect y="-2" width="41.6" height="4" rx=".8"/><text x="1" y=".8" textLength="39.6" lengthAdjust="spacingAndGlyphs">14.4 传感器应用案例——Box2D重力球</text></g>
<g id="n14-4-1" transform="translate(74,597.3)"><rect y="-2" width="27.7" height="4" rx=".8"/><text x="1" y=".8" textLength="25.7" lengthAdjust="spacingAndGlyphs">14.4.1 Box2D物理引擎简介</text></g>
<g id="n14-4-2" transform="translate(70.7,603.7)"><rect y="-2" width="31" height="4" rx=".8"/><text x="1" y=".8" textLength="29" lengthAdjust="spacingAndGlyphs">14.4.2 Box2D的基本概念</text></g>
<g id="n14-4-3" transform="translate(69.3,610)"><rect y="-2" width="32.4" height="4" rx=".8"/><text x="1" y=".8" textLength="30.4" lengthAdjust="spacingAndGlyphs">14.4.3 Box2D的基本使用流程</text></g>
<g id="n14-4-4" transform="translate(71.7,616.3)"><rect y="-2" width="30" height="4" rx=".8"/><text x="1" y=".8" textLength="28" lengthAdjust="spacingAndGlyphs">14.4.4 Box2D重力球设计</text></g>
<g id="e14-2" transform="translate(39,623)"><rect y="-2" width="62.7" height="4" rx=".8"/><text x="1" y=".8" textLength="60.7" lengthAdjust="spacingAndGlyphs">范例 14.2 Box2D 重力球范例（Chapter14/GravityBall）</text></g>
</g>
<g class="k15">
<g id="n15" transform="translate(139,688.3)"><rect y="-2.2" width="47" height="4.4" rx=".8"/><text x="1" y=".8" textLength="45" lengthAdjust="spacingAndGlyphs">15 GPS定位和Google Maps地图服务</text></g>
<g id="n15-1" transform="translate(97.7,633.7)"><rect y="-2" width="34" height="4" rx=".8"/><text x="1" y=".8" textLength="32" lengthAdjust="spacingAndGlyphs">15.1 GPS和Google Maps简介</text></g>
<g id="n15-2" transform="translate(110.7,652.7)"><rect y="-2" width="21" height="4" rx=".8"/><text x="1" y=".8" textLength="19" lengthAdjust="spacingAndGlyphs">15.2 GPS定位基础</text></g>
<g id="n15-2-1" transform="translate(73.3,640)"><rect y="-2" width="30.7" height="4" rx=".8"/><text x="1" y=".8" textLength="28.7" lengthAdjust="spacingAndGlyphs">15.2.1 LocationManager</text></g>
<g id="n15-2-2" transform="translate(74,646.3)"><rect y="-2" width="30" height="4" rx=".8"/><text x="1" y=".8" textLength="28" lengthAdjust="spacingAndGlyphs">15.2.2 LocationListener</text></g>
<g id="n15-2-3" transform="translate(83.3,652.7)"><rect y="-2" width="20.7" height="4" rx=".8"/><text x="1" y=".8" textLength="18.7" lengthAdjust="spacingAndGlyphs">15.2.3 Location</text></g>
<g id="n15-2-4" transform="translate(74,659)"><rect y="-2" width="30" height="4" rx=".8"/><text x="1" y=".8" textLength="28" lengthAdjust="spacingAndGlyphs">15.2.4 LocationProvider</text></g>
<g id="n15-2-5" transform="translate(85.7,665.7)"><rect y="-2" width="18.3" height="4" rx=".8"/><text x="1" y=".8" textLength="16.3" lengthAdjust="spacingAndGlyphs">15.2.5 Criteria</text></g>
<g id="n15-3" transform="translate(106,678.7)"><rect y="-2" width="25.7" height="4" rx=".8"/><text x="1" y=".8" textLength="23.7" lengthAdjust="spacingAndGlyphs">15.3 GPS定位的相关应用</text></g>
<g id="n15-3-1" transform="translate(71,672)"><rect y="-2" width="28" height="4" rx=".8"/><text x="1" y=".8" textLength="26" lengthAdjust="spacingAndGlyphs">15.3.1 GPS定位的基本流程</text></g>
<g id="e15-1" transform="translate(39.3,678.7)"><rect y="-2" width="59.7" height="4" rx=".8"/><text x="1" y=".8" textLength="57.7" lengthAdjust="spacingAndGlyphs">范例 15.1 GPS 定位范例（Chapter15/GPSLocation）</text></g>
<g id="n15-3-2" transform="translate(51.7,685)"><rect y="-2" width="47.3" height="4" rx=".8"/><text x="1" y=".8" textLength="45.3" lengthAdjust="spacingAndGlyphs">15.3.2 使用Android模拟器模拟GPS定位</text></g>
<g id="n15-4" transform="translate(100.7,704.3)"><rect y="-2" width="31" height="4" rx=".8"/><text x="1" y=".8" textLength="29" lengthAdjust="spacingAndGlyphs">15.4 Google Maps地图服务</text></g>
<g id="n15-4-1" transform="translate(58.3,691.3)"><rect y="-2" width="37.7" height="4" rx=".8"/><text x="1" y=".8" textLength="35.7" lengthAdjust="spacingAndGlyphs">15.4.1 获取Google地图服务密钥</text></g>
<g id="n15-4-2" transform="translate(39.3,698)"><rect y="-2" width="56.7" height="4" rx=".8"/><text x="1" y=".8" textLength="54.7" lengthAdjust="spacingAndGlyphs">15.4.2 创建Google API的Android虚拟设备</text></g>
<g id="n15-4-3" transform="translate(54,704.3)"><rect y="-2" width="42" height="4" rx=".8"/><text x="1" y=".8" textLength="40" lengthAdjust="spacingAndGlyphs">15.4.3 获取Google Maps API Key</text></g>
<g id="n15-4-4" transform="translate(54,710.7)"><rect y="-2" width="42" height="4" rx=".8"/><text x="1" y=".8" textLength="40" lengthAdjust="spacingAndGlyphs">15.4.4 Google Maps地图的显示</text></g>
<g id="e15-2" transform="translate(17.7,717.3)"><rect y="-2" width="78.3" height="4" rx=".8"/><text x="1" y=".8" textLength="76.3" lengthAdjust="spacingAndGlyphs">范例 15.2 Google 地图显示范例（Chapter15/MyGoogleMap）</text></g>
<g id="n15-5" transform="translate(100.7,733.7)"><rect y="-2" width="31" height="4" rx=".8"/><text x="1" y=".8" textLength="29" lengthAdjust="spacingAndGlyphs">15.5 Google Maps应用扩展</text></g>
<g id="n15-5-1" transform="translate(65.7,723.7)"><rect y="-2" width="30.3" height="4" rx=".8"/><text x="1" y=".8" textLength="28.3" lengthAdjust="spacingAndGlyphs">15.5.1 Google地图标注</text></g>
<g id="e15-3" transform="translate(17.7,730)"><rect y="-2" width="78.3" height="4" rx=".8"/><text x="1" y=".8" textLength="76.3" lengthAdjust="spacingAndGlyphs">范例 15.3 Google 地图标注范例（Chapter15/GoogleMapOverlay）</text></g>
<g id="n15-5-2" transform="translate(48.3,736.7)"><rect y="-2" width="47.7" height="4" rx=".8"/><text x="1" y=".8" textLength="45.7" lengthAdjust="spacingAndGlyphs">15.5.2 根据GPS定位显示Google地图</text></g>
<g id="e15-4" transform="translate(6,743)"><rect y="-2" width="90" height="4" rx=".8"/><text x="1" y=".8" textLength="88" lengthAdjust="spacingAndGlyphs">范例 15.4 根据 GPS 定位显示 Google 地图范例（Chapter15/GPSMap）</text></g>
</g>
<g class="k16">
<g id="n16" transform="translate(156,850.7)"><rect y="-2.2" width="30.7" height="4.4" rx=".8"/><text x="1" y=".8" textLength="28.7" lengthAdjust="spacingAndGlyphs">16 Android 3.0新特性</text></g>
<g id="n16-1" transform="translate(116,776.7)"><rect y="-2" width="33.3" height="4" rx=".8"/><text x="1" y=".8" textLength="31.3" lengthAdjust="spacingAndGlyphs">16.1 Android 3.0用户界面</text></g>
<g id="n16-1-1" transform="translate(81.7,753.7)"><rect y="-2" width="27.6" height="4" rx=".8"/><text x="1" y=".8" textLength="25.6" lengthAdjust="spacingAndGlyphs">16.1.1 全新的全息主题</text></g>
<g id="n16-1-2" transform="translate(77.3,760)"><rect y="-2" width="32" height="4" rx=".8"/><text x="1" y=".8" textLength="30" lengthAdjust="spacingAndGlyphs">16.1.2 新的系统栏和通知栏</text></g>
<g id="n16-1-3" transform="translate(88.3,766.7)"><rect y="-2" width="21" height="4" rx=".8"/><text x="1" y=".8" textLength="19" lengthAdjust="spacingAndGlyphs">16.1.3 操作栏</text></g>
<g id="n16-1-4" transform="translate(86,773)"><rect y="-2" width="23.3" height="4" rx=".8"/><text x="1" y=".8" textLength="21.3" lengthAdjust="spacingAndGlyphs">16.1.4 可定制主屏</text></g>
<g id="n16-1-5" transform="translate(79.3,779.3)"><rect y="-2" width="30" height="4" rx=".8"/><text x="1" y=".8" textLength="28" lengthAdjust="spacingAndGlyphs">16.1.5 近期使用程序列表</text></g>
<g id="n16-1-6" transform="translate(79.3,786)"><rect y="-2" width="30" height="4" rx=".8"/><text x="1" y=".8" textLength="28" lengthAdjust="spacingAndGlyphs">16.1.6 重新设计的键盘</text></g>
<g id="n16-1-7" transform="translate(83.3,792.3)"><rect y="-2" width="26" height="4" rx=".8"/><text x="1" y=".8" textLength="24" lengthAdjust="spacingAndGlyphs">16.1.7 改进的文本选择</text></g>
<g id="n16-1-8" transform="translate(77.3,799)"><rect y="-2" width="32" height="4" rx=".8"/><text x="1" y=".8" textLength="30" lengthAdjust="spacingAndGlyphs">16.1.8 新的连接选项和应用</text></g>
<g id="n16-2" transform="translate(116.7,831.3)"><rect y="-2" width="32.6" height="4" rx=".8"/><text x="1" y=".8" textLength="30.6" lengthAdjust="spacingAndGlyphs">16.2 Android 3.0开发者特性</text></g>
<g id="n16-2-1" transform="translate(72.7,805.7)"><rect y="-2" width="35.6" height="4" rx=".8"/><text x="1" y=".8" textLength="33.6" lengthAdjust="spacingAndGlyphs">16.2.1 新的用户界面框架</text></g>
<g id="n16-2-2" transform="translate(80,812)"><rect y="-2" width="28.3" height="4" rx=".8"/><text x="1" y=".8" textLength="26.3" lengthAdjust="spacingAndGlyphs">16.2.2 高性能2D和3D</text></g>
<g id="n16-2-3" transform="translate(85,818.3)"><rect y="-2" width="23.3" height="4" rx=".8"/><text x="1" y=".8" textLength="21.3" lengthAdjust="spacingAndGlyphs">16.2.3 多核支持</text></g>
<g id="n16-2-4" transform="translate(79.3,824.7)"><rect y="-2" width="29" height="4" rx=".8"/><text x="1" y=".8" textLength="27" lengthAdjust="spacingAndGlyphs">16.2.4 富媒体内容支持</text></g>
<g id="n16-2-5" transform="translate(72.7,831.3)"><rect y="-2" width="35.6" height="4" rx=".8"/><text x="1" y=".8" textLength="33.6" lengthAdjust="spacingAndGlyphs">16.2.5 外部设备的连接支持</text></g>
<g id="n16-2-6" transform="translate(80,837.7)"><rect y="-2" width="28.3" height="4" rx=".8"/><text x="1" y=".8" textLength="26.3" lengthAdjust="spacingAndGlyphs">16.2.6 企业级的支持</text></g>
<g id="n16-2-7" transform="translate(81,844)"><rect y="-2" width="27.3" height="4" rx=".8"/><text x="1" y=".8" textLength="25.3" lengthAdjust="spacingAndGlyphs">16.2.7 兼容性的改进</text></g>
<g id="n16-2-8" transform="translate(77.3,850.7)"><rect y="-2" width="31" height="4" rx=".8"/><text x="1" y=".8" textLength="29" lengthAdjust="spacingAndGlyphs">16.2.8 新的动画框架支持</text></g>
<g id="n16-2-9" transform="translate(83.3,857)"><rect y="-2" width="25" height="4" rx=".8"/><text x="1" y=".8" textLength="23" lengthAdjust="spacingAndGlyphs">16.2.9 硬件加速</text></g>
<g id="n16-3" transform="translate(112.7,886)"><rect y="-2" width="36.6" height="4" rx=".8"/><text x="1" y=".8" textLength="34.6" lengthAdjust="spacingAndGlyphs">16.3 Android 3.0 API新特性</text></g>
<g id="n16-3-1" transform="translate(84.3,863.3)"><rect y="-2" width="20" height="4" rx=".8"/><text x="1" y=".8" textLength="18" lengthAdjust="spacingAndGlyphs">16.3.1 Fragments</text></g>
<g id="n16-3-2" transform="translate(83.3,870)"><rect y="-2" width="21" height="4" rx=".8"/><text x="1" y=".8" textLength="19" lengthAdjust="spacingAndGlyphs">16.3.2 Action Bar</text></g>
<g id="n16-3-3" transform="translate(81,876.3)"><rect y="-2" width="23.3" height="4" rx=".8"/><text x="1" y=".8" textLength="21.3" lengthAdjust="spacingAndGlyphs">16.3.3 系统剪贴板</text></g>
<g id="n16-3-4" transform="translate(86,882.7)"><rect y="-2" width="18.3" height="4" rx=".8"/><text x="1" y=".8" textLength="16.3" lengthAdjust="spacingAndGlyphs">16.3.4 拖放</text></g>
<g id="n16-3-5" transform="translate(84.3,889.3)"><rect y="-2" width="20" height="4" rx=".8"/><text x="1" y=".8" textLength="18" lengthAdjust="spacingAndGlyphs">16.3.5 动画</text></g>
<g id="n16-3-6" transform="translate(86,895.7)"><rect y="-2" width="18.3" height="4" rx=".8"/><text x="1" y=".8" textLength="16.3" lengthAdjust="spacingAndGlyphs">16.3.6 图形</text></g>
<g id="n16-3-7" transform="translate(79.3,902)"><rect y="-2" width="25" height="4" rx=".8"/><text x="1" y=".8" textLength="23" lengthAdjust="spacingAndGlyphs">16.3.7 媒体（Media）</text></g>
<g id="n16-3-8" transform="translate(77.7,908.7)"><rect y="-2" width="26.6" height="4" rx=".8"/><text x="1" y=".8" textLength="24.6" lengthAdjust="spacingAndGlyphs">16.3.8 照相机（Camera）</text></g>
<g id="n16-4" transform="translate(111,931.3)"><rect y="-2" width="38.3" height="4" rx=".8"/><text x="1" y=".8" textLength="36.3" lengthAdjust="spacingAndGlyphs">16.4 Android 3.0 API新特性应用</text></g>
<g id="n16-4-1" transform="translate(79.3,915)"><rect y="-2" width="25" height="4" rx=".8"/><text x="1" y=".8" textLength="23" lengthAdjust="spacingAndGlyphs">16.4.1 Fragment应用</text></g>
<g id="e16-1" transform="translate(35,921.7)"><rect y="-2" width="69.3" height="4" rx=".8"/><text x="1" y=".8" textLength="67.3" lengthAdjust="spacingAndGlyphs">范例 16.1 Fragment 应用范例（Chapter16/FragmentDemo）</text></g>
<g id="n16-4-2" transform="translate(78.3,928)"><rect y="-2" width="26" height="4" rx=".8"/><text x="1" y=".8" textLength="24" lengthAdjust="spacingAndGlyphs">16.4.2 GridLayout应用</text></g>
<g id="e16-2" transform="translate(33.3,934.3)"><rect y="-2" width="71" height="4" rx=".8"/><text x="1" y=".8" textLength="69" lengthAdjust="spacingAndGlyphs">范例 16.2 GridLayout 应用范例（Chapter16/GridLayoutDemo）</text></g>
<g id="n16-4-3" transform="translate(83.3,941)"><rect y="-2" width="21" height="4" rx=".8"/><text x="1" y=".8" textLength="19" lengthAdjust="spacingAndGlyphs">16.4.3 Switch应用</text></g>
<g id="e16-3" transform="translate(43.3,947.3)"><rect y="-2" width="61" height="4" rx=".8"/><text x="1" y=".8" textLength="59" lengthAdjust="spacingAndGlyphs">范例 16.3 Switch 应用范例（Chapter16/SwitchDemo）</text></g>
</g>
<g class="k1">
<g id="n1" transform="translate(296.7,37.7)"><rect y="-2.2" width="21.6" height="4.4" rx=".8"/><text x="1" y=".8" textLength="19.6" lengthAdjust="spacingAndGlyphs">1 Android系统概述</text></g>
<g id="n1-1" transform="translate(325.7,11.3)"><rect y="-2" width="24.3" height="4" rx=".8"/><text x="1" y=".8" textLength="22.3" lengthAdjust="spacingAndGlyphs">1.1 Android的发展历程</text></g>
<g id="n1-1-1" transform="translate(357.3,8)"><rect y="-2" width="25" height="4" rx=".8"/><text x="1" y=".8" textLength="23" lengthAdjust="spacingAndGlyphs">1.1.1 Android的诞生</text></g>
<g id="n1-1-2" transform="translate(357.3,14.7)"><rect y="-2" width="25" height="4" rx=".8"/><text x="1" y=".8" textLength="23" lengthAdjust="spacingAndGlyphs">1.1.2 Android的发展</text></g>
<g id="n1-2" transform="translate(325.7,21)"><rect y="-2" width="24.3" height="4" rx=".8"/><text x="1" y=".8" textLength="22.3" lengthAdjust="spacingAndGlyphs">1.2 Android的优势</text></g>
<g id="n1-3" transform="translate(325.7,27.7)"><rect y="-2" width="27" height="4" rx=".8"/><text x="1" y=".8" textLength="25" lengthAdjust="spacingAndGlyphs">1.3 Android的开发平台</text></g>
<g id="n1-4" transform="translate(325.7,40.3)"><rect y="-2" width="32" height="4" rx=".8"/><text x="1" y=".8" textLength="30" lengthAdjust="spacingAndGlyphs">1.4 Android应用程序的开发</text></g>
<g id="n1-4-1" transform="translate(364.3,34)"><rect y="-2" width="16.7" height="4" rx=".8"/><text x="1" y=".8" textLength="14.7" lengthAdjust="spacingAndGlyphs">1.4.1 Java语言</text></g>
<g id="n1-4-2" transform="translate(364.3,40.3)"><rect y="-2" width="18" height="4" rx=".8"/><text x="1" y=".8" textLength="16" lengthAdjust="spacingAndGlyphs">1.4.2 用户界面</text></g>
<g id="n1-4-3" transform="translate(364.3,47)"><rect y="-2" width="15.7" height="4" rx=".8"/><text x="1" y=".8" textLength="13.7" lengthAdjust="spacingAndGlyphs">1.4.3 XML</text></g>
<g id="n1-5" transform="translate(325.7,60)"><rect y="-2" width="23.3" height="4" rx=".8"/><text x="1" y=".8" textLength="21.3" lengthAdjust="spacingAndGlyphs">1.5 Android的架构</text></g>
<g id="n1-5-1" transform="translate(355,53.3)"><rect y="-2" width="31.7" height="4" rx=".8"/><text x="1" y=".8" textLength="29.7" lengthAdjust="spacingAndGlyphs">1.5.1 应用程序和应用框架</text></g>
<g id="n1-5-2" transform="translate(355,60)"><rect y="-2" width="31.7" height="4" rx=".8"/><text x="1" y=".8" textLength="29.7" lengthAdjust="spacingAndGlyphs">1.5.2 函数库和运行时环境</text></g>
<g id="n1-5-3" transform="translate(355,66.3)"><rect y="-2" width="24.3" height="4" rx=".8"/><text x="1" y=".8" textLength="22.3" lengthAdjust="spacingAndGlyphs">1.5.3 Linux内核</text></g>
</g>
<g class="k2">
<g id="n2" transform="translate(296.7,106.7)"><rect y="-2.2" width="40.6" height="4.4" rx=".8"/><text x="1" y=".8" textLength="38.6" lengthAdjust="spacingAndGlyphs">2 Android开发环境搭建与应用程序</text></g>
<g id="n2-1" transform="translate(344.3,80.3)"><rect y="-2" width="29" height="4" rx=".8"/><text x="1" y=".8" textLength="27" lengthAdjust="spacingAndGlyphs">2.1 搭建Android开发环境</text></g>
<g id="n2-1-1" transform="translate(380,77)"><rect y="-2" width="35.7" height="4" rx=".8"/><text x="1" y=".8" textLength="33.7" lengthAdjust="spacingAndGlyphs">2.1.1 安装Android开发所需软件</text></g>
<g id="n2-1-2" transform="translate(380,83.3)"><rect y="-2" width="34" height="4" rx=".8"/><text x="1" y=".8" textLength="32" lengthAdjust="spacingAndGlyphs">2.1.2 配置Android开发环境</text></g>
<g id="n2-2" transform="translate(344.3,90)"><rect y="-2" width="29" height="4" rx=".8"/><text x="1" y=".8" textLength="27" lengthAdjust="spacingAndGlyphs">2.2 Android开发常用工具</text></g>
<g id="n2-3" transform="translate(344.3,96.3)"><rect y="-2" width="39" height="4" rx=".8"/><text x="1" y=".8" textLength="37" lengthAdjust="spacingAndGlyphs">2.3 第一个Android程序HelloWorld</text></g>
<g id="e2-1" transform="translate(390.7,96.3)"><rect y="-2" width="60" height="4" rx=".8"/><text x="1" y=".8" textLength="58" lengthAdjust="spacingAndGlyphs">范例 2.1 HelloWorld 范例（Chapter2/HelloWorld）</text></g>
<g id="n2-4" transform="translate(344.3,103)"><rect y="-2" width="33.7" height="4" rx=".8"/><text x="1" y=".8" textLength="31.7" lengthAdjust="spacingAndGlyphs">2.4 Android应用程序目录结构</text></g>
<g id="n2-5" transform="translate(344.3,122.3)"><rect y="-2" width="35" height="4" rx=".8"/><text x="1" y=".8" textLength="33" lengthAdjust="spacingAndGlyphs">2.5 Android应用程序基本组件</text></g>
<g id="n2-5-1" transform="translate(386.7,109.3)"><rect y="-2" width="24.3" height="4" rx=".8"/><text x="1" y=".8" textLength="22.3" lengthAdjust="spacingAndGlyphs">2.5.1 Activity简介</text></g>
<g id="n2-5-2" transform="translate(386.7,115.7)"><rect y="-2" width="31" height="4" rx=".8"/><text x="1" y=".8" textLength="29" lengthAdjust="spacingAndGlyphs">2.5.2 Intent和IntentFilter</text></g>
<g id="n2-5-3" transform="translate(386.7,122.3)"><rect y="-2" width="21" height="4" rx=".8"/><text x="1" y=".8" textLength="19" lengthAdjust="spacingAndGlyphs">2.5.3 Service</text></g>
<g id="n2-5-4" transform="translate(386.7,128.7)"><rect y="-2" width="30.6" height="4" rx=".8"/><text x="1" y=".8" textLength="28.6" lengthAdjust="spacingAndGlyphs">2.5.4 Broadcast Receiver</text></g>
<g id="n2-5-5" transform="translate(386.7,135)"><rect y="-2" width="28.6" height="4" rx=".8"/><text x="1" y=".8" textLength="26.6" lengthAdjust="spacingAndGlyphs">2.5.5 Content Provider</text></g>
</g>
<g class="k3">
<g id="n3" transform="translate(296.7,181.3)"><rect y="-2.2" width="28.3" height="4.4" rx=".8"/><text x="1" y=".8" textLength="26.3" lengthAdjust="spacingAndGlyphs">3 Activity和Intent</text></g>
<g id="n3-1" transform="translate(331,145.7)"><rect y="-2" width="25" height="4" rx=".8"/><text x="1" y=".8" textLength="23" lengthAdjust="spacingAndGlyphs">3.1 Activity的生命周期</text></g>
<g id="e3-1" transform="translate(363.3,145.7)"><rect y="-2" width="68.4" height="4" rx=".8"/><text x="1" y=".8" textLength="66.4" lengthAdjust="spacingAndGlyphs">范例 3.1 Activity 生命周期的应用（Chapter3/ActivityLifeCycle）</text></g>
<g id="n3-2" transform="translate(331,158.3)"><rect y="-2" width="29" height="4" rx=".8"/><text x="1" y=".8" textLength="27" lengthAdjust="spacingAndGlyphs">3.2 创建Activity的基本步骤</text></g>
<g id="n3-2-1" transform="translate(369,152)"><rect y="-2" width="27.7" height="4" rx=".8"/><text x="1" y=".8" textLength="25.7" lengthAdjust="spacingAndGlyphs">3.2.1 创建Activity的子类</text></g>
<g id="n3-2-2" transform="translate(369,158.3)"><rect y="-2" width="26.7" height="4" rx=".8"/><text x="1" y=".8" textLength="24.7" lengthAdjust="spacingAndGlyphs">3.2.2 实现回调方法</text></g>
<g id="n3-2-3" transform="translate(369,165)"><rect y="-2" width="26.7" height="4" rx=".8"/><text x="1" y=".8" textLength="24.7" lengthAdjust="spacingAndGlyphs">3.2.3 注册Activity</text></g>
<g id="n3-3" transform="translate(331,194)"><rect y="-2" width="28.3" height="4" rx=".8"/><text x="1" y=".8" textLength="26.3" lengthAdjust="spacingAndGlyphs">3.3 Activity和Intent</text></g>
<g id="n3-3-1" transform="translate(365.7,171.7)"><rect y="-2" width="22.6" height="4" rx=".8"/><text x="1" y=".8" textLength="20.6" lengthAdjust="spacingAndGlyphs">3.3.1 启动另一个Activity</text></g>
<g id="e3-2" transform="translate(365.7,178)"><rect y="-2" width="72" height="4" rx=".8"/><text x="1" y=".8" textLength="70" lengthAdjust="spacingAndGlyphs">范例 3.2 启动另一个 Activity 范例（Chapter3/StartupNewActivity）</text></g>
<g id="n3-3-2" transform="translate(365.7,184.7)"><rect y="-2" width="57" height="4" rx=".8"/><text x="1" y=".8" textLength="55" lengthAdjust="spacingAndGlyphs">3.3.2 启动另一个Activity并返回结果</text></g>
<g id="e3-3" transform="translate(365.7,191)"><rect y="-2" width="68.6" height="4" rx=".8"/><text x="1" y=".8" textLength="66.6" lengthAdjust="spacingAndGlyphs">范例 3.3 Activity 返回结果范例（Chapter3/ActivityResultDemo）</text></g>
<g id="n3-3-3" transform="translate(365.7,197.3)"><rect y="-2" width="35.3" height="4" rx=".8"/><text x="1" y=".8" textLength="33.3" lengthAdjust="spacingAndGlyphs">3.3.3 使用Intent启动系统Activity</text></g>
<g id="e3-4" transform="translate(365.7,203.7)"><rect y="-2" width="73.6" height="4" rx=".8"/><text x="1" y=".8" textLength="71.6" lengthAdjust="spacingAndGlyphs">范例 3.4 通过 Intent 启动 Activity 范例（Chapter3/IntentDemo）</text></g>
<g id="n3-3-4" transform="translate(365.7,210)"><rect y="-2" width="31" height="4" rx=".8"/><text x="1" y=".8" textLength="29" lengthAdjust="spacingAndGlyphs">3.3.4 Activity之间传递数据</text></g>
<g id="e3-5" transform="translate(365.7,216.7)"><rect y="-2" width="72" height="4" rx=".8"/><text x="1" y=".8" textLength="70" lengthAdjust="spacingAndGlyphs">范例 3.5 Activity 之间传递数据范例（Chapter3/ActivityDataPass）</text></g>
</g>
<g class="k4">
<g id="n4" transform="translate(297.7,446.7)"><rect y="-2.2" width="18" height="4.4" rx=".8"/><text x="1" y=".8" textLength="16" lengthAdjust="spacingAndGlyphs">4 用户界面</text></g>
<g id="n4-1" transform="translate(320.7,230.7)"><rect y="-2" width="36" height="4" rx=".8"/><text x="1" y=".8" textLength="34" lengthAdjust="spacingAndGlyphs">4.1 用户界面的基础（View）组件</text></g>
<g id="n4-1-1" transform="translate(365,227)"><rect y="-2" width="29" height="4" rx=".8"/><text x="1" y=".8" textLength="27" lengthAdjust="spacingAndGlyphs">4.1.1 视图组件与容器组件</text></g>
<g id="n4-1-2" transform="translate(365,233.3)"><rect y="-2" width="20.7" height="4" rx=".8"/><text x="1" y=".8" textLength="18.7" lengthAdjust="spacingAndGlyphs">4.1.2 控制UI界面</text></g>
<g id="n4-2" transform="translate(320.7,269)"><rect y="-2" width="18.6" height="4" rx=".8"/><text x="1" y=".8" textLength="16.6" lengthAdjust="spacingAndGlyphs">4.2 界面布局</text></g>
<g id="n4-2-1" transform="translate(345,240)"><rect y="-2" width="36.7" height="4" rx=".8"/><text x="1" y=".8" textLength="34.7" lengthAdjust="spacingAndGlyphs">4.2.1 线性布局（LinearLayout）</text></g>
<g id="e4-1" transform="translate(345,246.3)"><rect y="-2" width="52.7" height="4" rx=".8"/><text x="1" y=".8" textLength="50.7" lengthAdjust="spacingAndGlyphs">范例 4.1 线性布局范例（LinearLayoutDemo）</text></g>
<g id="n4-2-2" transform="translate(345,253)"><rect y="-2" width="35.7" height="4" rx=".8"/><text x="1" y=".8" textLength="33.7" lengthAdjust="spacingAndGlyphs">4.2.2 表格布局（TableLayout）</text></g>
<g id="e4-2" transform="translate(345,259.3)"><rect y="-2" width="51.7" height="4" rx=".8"/><text x="1" y=".8" textLength="49.7" lengthAdjust="spacingAndGlyphs">范例 4.2 表格布局范例（TableLayoutDemo）</text></g>
<g id="n4-2-3" transform="translate(345,266)"><rect y="-2" width="33.3" height="4" rx=".8"/><text x="1" y=".8" textLength="31.3" lengthAdjust="spacingAndGlyphs">4.2.3 帧布局（FrameLayout）</text></g>
<g id="e4-3" transform="translate(345,272.3)"><rect y="-2" width="50" height="4" rx=".8"/><text x="1" y=".8" textLength="48" lengthAdjust="spacingAndGlyphs">范例 4.3 帧布局范例（FrameLayoutDemo）</text></g>
<g id="n4-2-4" transform="translate(345,278.7)"><rect y="-2" width="39" height="4" rx=".8"/><text x="1" y=".8" textLength="37" lengthAdjust="spacingAndGlyphs">4.2.4 相对布局（RelativeLayout）</text></g>
<g id="e4-4" transform="translate(345,285.3)"><rect y="-2" width="54.3" height="4" rx=".8"/><text x="1" y=".8" textLength="52.3" lengthAdjust="spacingAndGlyphs">范例 4.4 相对布局范例（RelativeLayoutDemo）</text></g>
<g id="n4-2-5" transform="translate(345,291.7)"><rect y="-2" width="40" height="4" rx=".8"/><text x="1" y=".8" textLength="38" lengthAdjust="spacingAndGlyphs">4.2.5 绝对布局（AbsoluteLayout）</text></g>
<g id="e4-5" transform="translate(345,298)"><rect y="-2" width="48.3" height="4" rx=".8"/><text x="1" y=".8" textLength="46.3" lengthAdjust="spacingAndGlyphs">范例 4.5 绝对布局范例（AbsoluteLayoutDemo）</text></g>
<g id="n4-3" transform="translate(320.7,340)"><rect y="-2" width="19.3" height="4" rx=".8"/><text x="1" y=".8" textLength="17.3" lengthAdjust="spacingAndGlyphs">4.3 基本界面组件</text></g>
<g id="n4-3-1" transform="translate(348.7,304.3)"><rect y="-2" width="52" height="4" rx=".8"/><text x="1" y=".8" textLength="50" lengthAdjust="spacingAndGlyphs">4.3.1 文本框（TextView）与编辑框（EditText）</text></g>
<g id="n4-3-2" transform="translate(348.7,311)"><rect y="-2" width="55.3" height="4" rx=".8"/><text x="1" y=".8" textLength="53.3" lengthAdjust="spacingAndGlyphs">4.3.2 按钮（Button）与图片按钮（ImageButton）</text></g>
<g id="e4-6" transform="translate(348.7,317.3)"><rect y="-2" width="45.3" height="4" rx=".8"/><text x="1" y=".8" textLength="43.3" lengthAdjust="spacingAndGlyphs">范例 4.6 登录界面范例（LoginDemo）</text></g>
<g id="n4-3-3" transform="translate(348.7,324)"><rect y="-2" width="64" height="4" rx=".8"/><text x="1" y=".8" textLength="62" lengthAdjust="spacingAndGlyphs">4.3.3 单选按钮组（RadioGroup）和单选按钮（RadioButton）</text></g>
<g id="e4-7" transform="translate(348.7,330.3)"><rect y="-2" width="49.6" height="4" rx=".8"/><text x="1" y=".8" textLength="47.6" lengthAdjust="spacingAndGlyphs">范例 4.7 单选按钮范例（RadioButtonDemo）</text></g>
<g id="n4-3-4" transform="translate(348.7,336.7)"><rect y="-2" width="29.6" height="4" rx=".8"/><text x="1" y=".8" textLength="27.6" lengthAdjust="spacingAndGlyphs">4.3.4 复选框（CheckBox）</text></g>
<g id="e4-8" transform="translate(348.7,343.3)"><rect y="-2" width="44.6" height="4" rx=".8"/><text x="1" y=".8" textLength="42.6" lengthAdjust="spacingAndGlyphs">范例 4.8 复选框范例（CheckBoxDemo）</text></g>
<g id="n4-3-5" transform="translate(348.7,349.7)"><rect y="-2" width="33" height="4" rx=".8"/><text x="1" y=".8" textLength="31" lengthAdjust="spacingAndGlyphs">4.3.5 图片视图（ImageView）</text></g>
<g id="n4-3-6" transform="translate(348.7,356)"><rect y="-2" width="41.3" height="4" rx=".8"/><text x="1" y=".8" textLength="39.3" lengthAdjust="spacingAndGlyphs">4.3.6 状态开关按钮（ToggleButton）</text></g>
<g id="e4-9" transform="translate(348.7,362.7)"><rect y="-2" width="47" height="4" rx=".8"/><text x="1" y=".8" textLength="45" lengthAdjust="spacingAndGlyphs">范例 4.9 开关按钮范例（ToggleButtonDemo）</text></g>
<g id="n4-3-7" transform="translate(348.7,369)"><rect y="-2" width="45.3" height="4" rx=".8"/><text x="1" y=".8" textLength="43.3" lengthAdjust="spacingAndGlyphs">4.3.7 时钟（AnalogClock和DigitalClock）</text></g>
<g id="e4-10" transform="translate(348.7,375.7)"><rect y="-2" width="40.6" height="4" rx=".8"/><text x="1" y=".8" textLength="38.6" lengthAdjust="spacingAndGlyphs">范例 4.10 时钟范例（ClockDemo）</text></g>
<g id="n4-4" transform="translate(320.7,462.7)"><rect y="-2" width="19.3" height="4" rx=".8"/><text x="1" y=".8" textLength="17.3" lengthAdjust="spacingAndGlyphs">4.4 高级界面组件</text></g>
<g id="n4-4-1" transform="translate(348.7,382)"><rect y="-2" width="55.3" height="4" rx=".8"/><text x="1" y=".8" textLength="53.3" lengthAdjust="spacingAndGlyphs">4.4.1 自动完成文本框（AutoCompleteTextView）</text></g>
<g id="e4-11" transform="translate(348.7,388.3)"><rect y="-2" width="71.3" height="4" rx=".8"/><text x="1" y=".8" textLength="69.3" lengthAdjust="spacingAndGlyphs">范例 4.11 自动完成文本框范例（AutoCompleteTextViewDemo）</text></g>
<g id="n4-4-2" transform="translate(348.7,395)"><rect y="-2" width="28" height="4" rx=".8"/><text x="1" y=".8" textLength="26" lengthAdjust="spacingAndGlyphs">4.4.2 下拉列表（Spinner）</text></g>
<g id="e4-12" transform="translate(348.7,401.3)"><rect y="-2" width="39.6" height="4" rx=".8"/><text x="1" y=".8" textLength="37.6" lengthAdjust="spacingAndGlyphs">范例 4.12 下拉列表范例（Spinner）</text></g>
<g id="n4-4-3" transform="translate(348.7,408)"><rect y="-2" width="65.3" height="4" rx=".8"/><text x="1" y=".8" textLength="63.3" lengthAdjust="spacingAndGlyphs">4.4.3 日期选择器（DatePicker）和时间选择器（TimePicker）</text></g>
<g id="e4-13" transform="translate(348.7,414.3)"><rect y="-2" width="55.3" height="4" rx=".8"/><text x="1" y=".8" textLength="53.3" lengthAdjust="spacingAndGlyphs">范例 4.13 日期时间选择器范例（DateTimePicker）</text></g>
<g id="n4-4-4" transform="translate(348.7,420.7)"><rect y="-2" width="33" height="4" rx=".8"/><text x="1" y=".8" textLength="31" lengthAdjust="spacingAndGlyphs">4.4.4 进度条（ProgressBar）</text></g>
<g id="e4-14" transform="translate(348.7,427.3)"><rect y="-2" width="49.6" height="4" rx=".8"/><text x="1" y=".8" textLength="47.6" lengthAdjust="spacingAndGlyphs">范例 4.14 进度条范例（ProgressBarDemo）</text></g>
<g id="n4-4-5" transform="translate(348.7,433.7)"><rect y="-2" width="28" height="4" rx=".8"/><text x="1" y=".8" textLength="26" lengthAdjust="spacingAndGlyphs">4.4.5 拖动条（SeekBar）</text></g>
<g id="e4-15" transform="translate(348.7,440)"><rect y="-2" width="44" height="4" rx=".8"/><text x="1" y=".8" textLength="42" lengthAdjust="spacingAndGlyphs">范例 4.15 拖动条范例（SeekBarDemo）</text></g>
<g id="n4-4-6" transform="translate(348.7,446.7)"><rect y="-2" width="35.3" height="4" rx=".8"/><text x="1" y=".8" textLength="33.3" lengthAdjust="spacingAndGlyphs">4.4.6 星级评分条（RatingBar）</text></g>
<g id="e4-16" transform="translate(348.7,453)"><rect y="-2" width="50.6" height="4" rx=".8"/><text x="1" y=".8" textLength="48.6" lengthAdjust="spacingAndGlyphs">范例 4.16 星级评分条范例（RatingBarDemo）</text></g>
<g id="n4-4-7" transform="translate(348.7,459.3)"><rect y="-2" width="28" height="4" rx=".8"/><text x="1" y=".8" textLength="26" lengthAdjust="spacingAndGlyphs">4.4.7 选项卡（TabHost）</text></g>
<g id="e4-17" transform="translate(348.7,466)"><rect y="-2" width="38" height="4" rx=".8"/><text x="1" y=".8" textLength="36" lengthAdjust="spacingAndGlyphs">范例 4.17 选项卡范例（TabHost）</text></g>
<g id="n4-4-8" transform="translate(348.7,472.3)"><rect y="-2" width="30.6" height="4" rx=".8"/><text x="1" y=".8" textLength="28.6" lengthAdjust="spacingAndGlyphs">4.4.8 滚动视图（ScrollView）</text></g>
<g id="e4-18" transform="translate(348.7,478.7)"><rect y="-2" width="47" height="4" rx=".8"/><text x="1" y=".8" textLength="45" lengthAdjust="spacingAndGlyphs">范例 4.18 滚动视图范例（ScrollViewDemo）</text></g>
<g id="n4-4-9" transform="translate(348.7,485.7)"><rect y="-2" width="31.3" height="4" rx=".8"/><text x="1" y=".8" textLength="29.3" lengthAdjust="spacingAndGlyphs">4.4.9 列表视图（ListView）</text></g>
<g id="e4-19" transform="translate(348.7,492)"><rect y="-2" width="80.6" height="4" rx=".8"/><text x="1" y=".8" textLength="78.6" lengthAdjust="spacingAndGlyphs">范例 4.19 ArrayAdapter 列表视图范例（ArrayAdapterListViewDemo）</text></g>
<g id="e4-20" transform="translate(348.7,498.3)"><rect y="-2" width="81.3" height="4" rx=".8"/><text x="1" y=".8" textLength="79.3" lengthAdjust="spacingAndGlyphs">范例 4.20 SimpleCursorAdapter 列表视图范例（CursorListViewDemo）</text></g>
<g id="e4-21" transform="translate(348.7,504.7)"><rect y="-2" width="83" height="4" rx=".8"/><text x="1" y=".8" textLength="81" lengthAdjust="spacingAndGlyphs">范例 4.21 SimpleAdapter 列表视图范例（SimpleAdapterListViewDemo）</text></g>
<g id="n4-4-10" transform="translate(348.7,511.3)"><rect y="-2" width="53.6" height="4" rx=".8"/><text x="1" y=".8" textLength="51.6" lengthAdjust="spacingAndGlyphs">4.4.10 可展开的列表组件（ExpandableListView）</text></g>
<g id="e4-22" transform="translate(348.7,517.7)"><rect y="-2" width="61.3" height="4" rx=".8"/><text x="1" y=".8" textLength="59.3" lengthAdjust="spacingAndGlyphs">范例 4.22 可展开的列表组件范例（ExpandableListDemo）</text></g>
<g id="n4-4-11" transform="translate(348.7,524)"><rect y="-2" width="33.6" height="4" rx=".8"/><text x="1" y=".8" textLength="31.6" lengthAdjust="spacingAndGlyphs">4.4.11 网格视图（GridView）</text></g>
<g id="e4-23" transform="translate(348.7,530.7)"><rect y="-2" width="47" height="4" rx=".8"/><text x="1" y=".8" textLength="45" lengthAdjust="spacingAndGlyphs">范例 4.23 网格视图范例（GridViewDemo）</text></g>
<g id="n4-4-12" transform="translate(348.7,537)"><rect y="-2" width="65.3" height="4" rx=".8"/><text x="1" y=".8" textLength="63.3" lengthAdjust="spacingAndGlyphs">4.4.12 画廊视图（Gallery）和图片切换器（ImageSwitcher）</text></g>
<g id="e4-24" transform="translate(348.7,543.3)"><rect y="-2" width="40.6" height="4" rx=".8"/><text x="1" y=".8" textLength="38.6" lengthAdjust="spacingAndGlyphs">范例 4.24 相册范例（AlbumDemo）</text></g>
<g id="n4-5" transform="translate(320.7,572.7)"><rect y="-2" width="12.6" height="4" rx=".8"/><text x="1" y=".8" textLength="10.6" lengthAdjust="spacingAndGlyphs">4.5 对话框</text></g>
<g id="n4-5-1" transform="translate(341,550.3)"><rect y="-2" width="44" height="4" rx=".8"/><text x="1" y=".8" textLength="42" lengthAdjust="spacingAndGlyphs">4.5.1 使用AlertDialog创建简单对话框</text></g>
<g id="n4-5-2" transform="translate(341,556.7)"><rect y="-2" width="41.7" height="4" rx=".8"/><text x="1" y=".8" textLength="39.7" lengthAdjust="spacingAndGlyphs">4.5.2 使用AlertDialog创建列表对话框</text></g>
<g id="n4-5-3" transform="translate(341,563)"><rect y="-2" width="44" height="4" rx=".8"/><text x="1" y=".8" textLength="42" lengthAdjust="spacingAndGlyphs">4.5.3 使用AlertDialog创建自定义对话框</text></g>
<g id="n4-5-4" transform="translate(341,569.7)"><rect y="-2" width="45.7" height="4" rx=".8"/><text x="1" y=".8" textLength="43.7" lengthAdjust="spacingAndGlyphs">4.5.4 使用ProgressDialog创建进度对话框</text></g>
<g id="n4-5-5" transform="translate(341,576)"><rect y="-2" width="54" height="4" rx=".8"/><text x="1" y=".8" textLength="52" lengthAdjust="spacingAndGlyphs">4.5.5 使用DatePickerDialog和TimePickerDialog</text></g>
<g id="e4-25" transform="translate(341,582.3)"><rect y="-2" width="80.7" height="4" rx=".8"/><text x="1" y=".8" textLength="78.7" lengthAdjust="spacingAndGlyphs">范例 4.25 日期和时间对话框范例（DateTimePickerDialogDemo）</text></g>
<g id="n4-5-6" transform="translate(341,589)"><rect y="-2" width="29" height="4" rx=".8"/><text x="1" y=".8" textLength="27" lengthAdjust="spacingAndGlyphs">4.5.6 使用PopupWindow</text></g>
<g id="e4-26" transform="translate(341,595.3)"><rect y="-2" width="26.7" height="4" rx=".8"/><text x="1" y=".8" textLength="24.7" lengthAdjust="spacingAndGlyphs">范例 4.26 PopupWindow 范例</text></g>
<g id="n4-6" transform="translate(320.7,608)"><rect y="-2" width="15.3" height="4" rx=".8"/><text x="1" y=".8" textLength="13.3" lengthAdjust="spacingAndGlyphs">4.6 消息提示</text></g>
<g id="n4-6-1" transform="translate(343.7,602)"><rect y="-2" width="32.3" height="4" rx=".8"/><text x="1" y=".8" textLength="30.3" lengthAdjust="spacingAndGlyphs">4.6.1 使用Toast显示提示信息</text></g>
<g id="n4-6-2" transform="translate(343.7,608.3)"><rect y="-2" width="41.3" height="4" rx=".8"/><text x="1" y=".8" textLength="39.3" lengthAdjust="spacingAndGlyphs">4.6.2 使用Notification显示状态栏通知</text></g>
<g id="e4-27" transform="translate(343.7,614.7)"><rect y="-2" width="55.3" height="4" rx=".8"/><text x="1" y=".8" textLength="53.3" lengthAdjust="spacingAndGlyphs">范例 4.27 Notification 范例（NotificationDemo）</text></g>
<g id="n4-7" transform="translate(320.7,643.7)"><rect y="-2" width="11.3" height="4" rx=".8"/><text x="1" y=".8" textLength="9.3" lengthAdjust="spacingAndGlyphs">4.7 菜单</text></g>
<g id="n4-7-1" transform="translate(339.3,621.3)"><rect y="-2" width="37.4" height="4" rx=".8"/><text x="1" y=".8" textLength="35.4" lengthAdjust="spacingAndGlyphs">4.7.1 选项菜单（Option Menu）</text></g>
<g id="e4-28" transform="translate(339.3,627.7)"><rect y="-2" width="52.4" height="4" rx=".8"/><text x="1" y=".8" textLength="50.4" lengthAdjust="spacingAndGlyphs">范例 4.28 选项菜单范例（OptionMenuDemo）</text></g>
<g id="n4-7-2" transform="translate(339.3,634.3)"><rect y="-2" width="39" height="4" rx=".8"/><text x="1" y=".8" textLength="37" lengthAdjust="spacingAndGlyphs">4.7.2 上下文菜单（Context Menu）</text></g>
<g id="e4-29" transform="translate(339.3,640.7)"><rect y="-2" width="55.7" height="4" rx=".8"/><text x="1" y=".8" textLength="53.7" lengthAdjust="spacingAndGlyphs">范例 4.29 上下文菜单范例（ContextMenuDemo）</text></g>
<g id="n4-7-3" transform="translate(339.3,646.7)"><rect y="-2" width="30.7" height="4" rx=".8"/><text x="1" y=".8" textLength="28.7" lengthAdjust="spacingAndGlyphs">4.7.3 子菜单（Sub Menu）</text></g>
<g id="e4-30" transform="translate(339.3,653.3)"><rect y="-2" width="45.7" height="4" rx=".8"/><text x="1" y=".8" textLength="43.7" lengthAdjust="spacingAndGlyphs">范例 4.30 子菜单范例（SubMenuDemo）</text></g>
<g id="n4-7-4" transform="translate(339.3,659.7)"><rect y="-2" width="37.4" height="4" rx=".8"/><text x="1" y=".8" textLength="35.4" lengthAdjust="spacingAndGlyphs">4.7.4 复选菜单项和单选菜单项</text></g>
<g id="e4-31" transform="translate(339.3,666.3)"><rect y="-2" width="66.7" height="4" rx=".8"/><text x="1" y=".8" textLength="64.7" lengthAdjust="spacingAndGlyphs">范例 4.31 复选菜单项和单选菜单项范例（CheckMenuDemo）</text></g>
</g>
<g class="k5">
<g id="n5" transform="translate(296.7,731.7)"><rect y="-2.2" width="27.3" height="4.4" rx=".8"/><text x="1" y=".8" textLength="25.3" lengthAdjust="spacingAndGlyphs">5 Android事件处理</text></g>
<g id="n5-1" transform="translate(331,676.7)"><rect y="-2" width="29" height="4" rx=".8"/><text x="1" y=".8" textLength="27" lengthAdjust="spacingAndGlyphs">5.1 Android事件处理概述</text></g>
<g id="n5-2" transform="translate(331,699.7)"><rect y="-2" width="27.3" height="4" rx=".8"/><text x="1" y=".8" textLength="25.3" lengthAdjust="spacingAndGlyphs">5.2 基于回调的事件处理</text></g>
<g id="n5-2-1" transform="translate(365,683.3)"><rect y="-2" width="30.7" height="4" rx=".8"/><text x="1" y=".8" textLength="28.7" lengthAdjust="spacingAndGlyphs">5.2.1 onKeyDown回调方法</text></g>
<g id="e5-1" transform="translate(365,690)"><rect y="-2" width="64" height="4" rx=".8"/><text x="1" y=".8" textLength="62" lengthAdjust="spacingAndGlyphs">范例 5.1 onKeyDown 回调方法范例（OnKeyDownDemo）</text></g>
<g id="n5-2-2" transform="translate(365,696.3)"><rect y="-2" width="27.3" height="4" rx=".8"/><text x="1" y=".8" textLength="25.3" lengthAdjust="spacingAndGlyphs">5.2.2 onKeyUp回调方法</text></g>
<g id="n5-2-3" transform="translate(365,702.7)"><rect y="-2" width="33.3" height="4" rx=".8"/><text x="1" y=".8" textLength="31.3" lengthAdjust="spacingAndGlyphs">5.2.3 onTouchEvent回调方法</text></g>
<g id="e5-2" transform="translate(365,709.3)"><rect y="-2" width="68.3" height="4" rx=".8"/><text x="1" y=".8" textLength="66.3" lengthAdjust="spacingAndGlyphs">范例 5.2 onTouchEvent 回调方法范例（OnTouchEventDemo）</text></g>
<g id="n5-2-4" transform="translate(365,715.7)"><rect y="-2" width="21.7" height="4" rx=".8"/><text x="1" y=".8" textLength="19.7" lengthAdjust="spacingAndGlyphs">5.2.4 其他回调方法</text></g>
<g id="n5-3" transform="translate(331,741.3)"><rect y="-2" width="29" height="4" rx=".8"/><text x="1" y=".8" textLength="27" lengthAdjust="spacingAndGlyphs">5.3 基于监听接口的事件处理</text></g>
<g id="n5-3-1" transform="translate(367.7,722)"><rect y="-2" width="28" height="4" rx=".8"/><text x="1" y=".8" textLength="26" lengthAdjust="spacingAndGlyphs">5.3.1 事件监听的处理模型</text></g>
<g id="e5-3" transform="translate(367.7,728.7)"><rect y="-2" width="54" height="4" rx=".8"/><text x="1" y=".8" textLength="52" lengthAdjust="spacingAndGlyphs">范例 5.3 事件监听处理模型范例（EventListener）</text></g>
<g id="n5-3-2" transform="translate(367.7,735)"><rect y="-2" width="19" height="4" rx=".8"/><text x="1" y=".8" textLength="17" lengthAdjust="spacingAndGlyphs">5.3.2 事件监听接口</text></g>
<g id="e5-4" transform="translate(367.7,741.3)"><rect y="-2" width="77.3" height="4" rx=".8"/><text x="1" y=".8" textLength="75.3" lengthAdjust="spacingAndGlyphs">范例 5.4 OnLongClickListener 接口范例（OnLongClickListenerDemo）</text></g>
<g id="e5-5" transform="translate(367.7,748)"><rect y="-2" width="85.6" height="4" rx=".8"/><text x="1" y=".8" textLength="83.6" lengthAdjust="spacingAndGlyphs">范例 5.5 OnFocusChangeListener 接口范例（OnFocusChangeListenerDemo）</text></g>
<g id="e5-6" transform="translate(367.7,754.3)"><rect y="-2" width="70" height="4" rx=".8"/><text x="1" y=".8" textLength="68" lengthAdjust="spacingAndGlyphs">范例 5.6 OnTouchListener 接口范例（OnTouchListenerDemo）</text></g>
<g id="n5-3-3" transform="translate(367.7,760.7)"><rect y="-2" width="28" height="4" rx=".8"/><text x="1" y=".8" textLength="26" lengthAdjust="spacingAndGlyphs">5.3.3 事件监听器的实现</text></g>
<g id="n5-4" transform="translate(331,773.7)"><rect y="-2" width="24" height="4" rx=".8"/><text x="1" y=".8" textLength="22" lengthAdjust="spacingAndGlyphs">5.4 系统设置事件处理</text></g>
<g id="n5-4-1" transform="translate(362.7,767.3)"><rect y="-2" width="30.6" height="4" rx=".8"/><text x="1" y=".8" textLength="28.6" lengthAdjust="spacingAndGlyphs">5.4.1 Configuration类简介</text></g>
<g id="n5-4-2" transform="translate(362.7,773.7)"><rect y="-2" width="46.3" height="4" rx=".8"/><text x="1" y=".8" textLength="44.3" lengthAdjust="spacingAndGlyphs">5.4.2 重写onConfigurationChanged方法</text></g>
<g id="e5-7" transform="translate(362.7,780)"><rect y="-2" width="64" height="4" rx=".8"/><text x="1" y=".8" textLength="62" lengthAdjust="spacingAndGlyphs">范例 5.7 系统设置事件处理范例（ConfigurationDemo）</text></g>
<g id="n5-5" transform="translate(331,786.7)"><rect y="-2" width="29" height="4" rx=".8"/><text x="1" y=".8" textLength="27" lengthAdjust="spacingAndGlyphs">5.5 Handler消息传递机制</text></g>
<g id="e5-8" transform="translate(366.7,786.7)"><rect y="-2" width="51.6" height="4" rx=".8"/><text x="1" y=".8" textLength="49.6" lengthAdjust="spacingAndGlyphs">范例 5.8 进度条更新范例（HandlerProgress）</text></g>
</g>
<g class="k6">
<g id="n6" transform="translate(296.7,823.3)"><rect y="-2.2" width="29.3" height="4.4" rx=".8"/><text x="1" y=".8" textLength="27.3" lengthAdjust="spacingAndGlyphs">6 数据存储与数据共享</text></g>
<g id="n6-1" transform="translate(333.3,797)"><rect y="-2" width="36" height="4" rx=".8"/><text x="1" y=".8" textLength="34" lengthAdjust="spacingAndGlyphs">6.1 Android数据存储的分类概述</text></g>
<g id="n6-2" transform="translate(333.3,804)"><rect y="-2" width="27.7" height="4" rx=".8"/><text x="1" y=".8" textLength="25.7" lengthAdjust="spacingAndGlyphs">6.2 Shared Preferences</text></g>
<g id="e6-1" transform="translate(369,804)"><rect y="-2" width="80.3" height="4" rx=".8"/><text x="1" y=".8" textLength="78.3" lengthAdjust="spacingAndGlyphs">范例 6.1 SharedPreferences 存储数据范例（SharedPreferencesDemo）</text></g>
<g id="n6-3" transform="translate(333.3,810.3)"><rect y="-2" width="22.7" height="4" rx=".8"/><text x="1" y=".8" textLength="20.7" lengthAdjust="spacingAndGlyphs">6.3 Files文件存储</text></g>
<g id="e6-2" transform="translate(361.7,810.3)"><rect y="-2" width="46.6" height="4" rx=".8"/><text x="1" y=".8" textLength="44.6" lengthAdjust="spacingAndGlyphs">范例 6.2 Files 文件存储范例（FilesDemo）</text></g>
<g id="n6-4" transform="translate(333.3,816.7)"><rect y="-2" width="20.7" height="4" rx=".8"/><text x="1" y=".8" textLength="18.7" lengthAdjust="spacingAndGlyphs">6.4 SQLite数据库</text></g>
<g id="e6-3" transform="translate(361.7,816.7)"><rect y="-2" width="53.3" height="4" rx=".8"/><text x="1" y=".8" textLength="51.3" lengthAdjust="spacingAndGlyphs">范例 6.3 学生信息管理范例（SQLiteStudentDemo）</text></g>
<g id="n6-5" transform="translate(333.3,833)"><rect y="-2" width="41.7" height="4" rx=".8"/><text x="1" y=".8" textLength="39.7" lengthAdjust="spacingAndGlyphs">6.5 Content Provider（内容提供器）</text></g>
<g id="n6-5-1" transform="translate(381.7,823.3)"><rect y="-2" width="41.6" height="4" rx=".8"/><text x="1" y=".8" textLength="39.6" lengthAdjust="spacingAndGlyphs">6.5.1 Content Provider的基础知识</text></g>
<g id="e6-4" transform="translate(381.7,829.7)"><rect y="-2" width="50" height="4" rx=".8"/><text x="1" y=".8" textLength="48" lengthAdjust="spacingAndGlyphs">范例 6.4 读取联系人范例（ContactsDemo）</text></g>
<g id="n6-5-2" transform="translate(381.7,836)"><rect y="-2" width="61" height="4" rx=".8"/><text x="1" y=".8" textLength="59" lengthAdjust="spacingAndGlyphs">6.5.2 开发自定义的Content Provider（内容提供器）</text></g>
<g id="e6-5" transform="translate(381.7,842.7)"><rect y="-2" width="87.6" height="4" rx=".8"/><text x="1" y=".8" textLength="85.6" lengthAdjust="spacingAndGlyphs">范例 6.5 Content Provider 的实现范例（StudentContentProvider）</text></g>
<g id="n6-6" transform="translate(333.3,849)"><rect y="-2" width="25.7" height="4" rx=".8"/><text x="1" y=".8" textLength="23.7" lengthAdjust="spacingAndGlyphs">6.6 Network存储数据</text></g>
</g>
<g class="k7">
<g id="n7" transform="translate(296.7,888.7)"><rect y="-2.2" width="78.3" height="4.4" rx=".8"/><text x="1" y=".8" textLength="76.3" lengthAdjust="spacingAndGlyphs">7 Service（服务组件）和Broadcast Receiver（广播接收器）</text></g>
<g id="n7-1" transform="translate(379.3,872)"><rect y="-2" width="28.4" height="4" rx=".8"/><text x="1" y=".8" textLength="26.4" lengthAdjust="spacingAndGlyphs">7.1 Service（服务组件）</text></g>
<g id="n7-1-1" transform="translate(415.7,859.3)"><rect y="-2" width="11" height="4" rx=".8"/><text x="1" y=".8" textLength="9" lengthAdjust="spacingAndGlyphs">7.1.1 概述</text></g>
<g id="n7-1-2" transform="translate(415.7,865.7)"><rect y="-2" width="11" height="4" rx=".8"/><text x="1" y=".8" textLength="9" lengthAdjust="spacingAndGlyphs">7.1.2 分类</text></g>
<g id="n7-1-3" transform="translate(415.7,872)"><rect y="-2" width="27" height="4" rx=".8"/><text x="1" y=".8" textLength="25" lengthAdjust="spacingAndGlyphs">7.1.3 Service的创建和配置</text></g>
<g id="n7-1-4" transform="translate(415.7,878.7)"><rect y="-2" width="21" height="4" rx=".8"/><text x="1" y=".8" textLength="19" lengthAdjust="spacingAndGlyphs">7.1.4 启动和停止</text></g>
<g id="e7-1" transform="translate(415.7,885)"><rect y="-2" width="40.3" height="4" rx=".8"/><text x="1" y=".8" textLength="38.3" lengthAdjust="spacingAndGlyphs">范例 7.1 音乐播放服务范例（MusicPlayService）</text></g>
<g id="n7-2" transform="translate(379.3,901.3)"><rect y="-2" width="43.4" height="4" rx=".8"/><text x="1" y=".8" textLength="41.4" lengthAdjust="spacingAndGlyphs">7.2 广播接收器（Broadcast Receiver）</text></g>
<g id="n7-2-1" transform="translate(430,891.7)"><rect y="-2" width="50" height="4" rx=".8"/><text x="1" y=".8" textLength="48" lengthAdjust="spacingAndGlyphs">7.2.1 广播接收器（Broadcast Receiver）简介</text></g>
<g id="n7-2-2" transform="translate(430,898)"><rect y="-2" width="21" height="4" rx=".8"/><text x="1" y=".8" textLength="19" lengthAdjust="spacingAndGlyphs">7.2.2 发送广播</text></g>
<g id="n7-2-3" transform="translate(430,904.7)"><rect y="-2" width="21" height="4" rx=".8"/><text x="1" y=".8" textLength="19" lengthAdjust="spacingAndGlyphs">7.2.3 接收广播</text></g>
<g id="e7-2" transform="translate(430,911)"><rect y="-2" width="60.7" height="4" rx=".8"/><text x="1" y=".8" textLength="58.7" lengthAdjust="spacingAndGlyphs">范例 7.2 Broadcast Receiver 范例（BroadcastDemo）</text></g>
<g id="n7-3" transform="translate(379.3,917.7)"><rect y="-2" width="46.7" height="4" rx=".8"/><text x="1" y=".8" textLength="44.7" lengthAdjust="spacingAndGlyphs">7.3 Service和Broadcast Receiver综合范例</text></g>
<g id="e7-3" transform="translate(434.3,917.7)"><rect y="-2" width="42.4" height="4" rx=".8"/><text x="1" y=".8" textLength="40.4" lengthAdjust="spacingAndGlyphs">范例 7.3 定时提醒范例（TimerAlarm）</text></g>
</g>
<g class="k8">
<g id="n8" transform="translate(296.7,937.3)"><rect y="-2.2" width="13.3" height="4.4" rx=".8"/><text x="1" y=".8" textLength="11.3" lengthAdjust="spacingAndGlyphs">8 国际化</text></g>
<g id="n8-1" transform="translate(317.7,928.3)"><rect y="-2" width="22.3" height="4" rx=".8"/><text x="1" y=".8" textLength="20.3" lengthAdjust="spacingAndGlyphs">8.1 Android国际化</text></g>
<g id="n8-2" transform="translate(317.7,937.7)"><rect y="-2" width="27.3" height="4" rx=".8"/><text x="1" y=".8" textLength="25.3" lengthAdjust="spacingAndGlyphs">8.2 Android的资源国际化</text></g>
<g id="n8-2-1" transform="translate(351.7,935)"><rect y="-2" width="26.6" height="4" rx=".8"/><text x="1" y=".8" textLength="24.6" lengthAdjust="spacingAndGlyphs">8.2.1 创建本地化资源</text></g>
<g id="n8-2-2" transform="translate(351.7,941.3)"><rect y="-2" width="34" height="4" rx=".8"/><text x="1" y=".8" textLength="32" lengthAdjust="spacingAndGlyphs">8.2.2 Android资源的加载顺序</text></g>
<g id="n8-3" transform="translate(317.7,947.7)"><rect y="-2" width="27.3" height="4" rx=".8"/><text x="1" y=".8" textLength="25.3" lengthAdjust="spacingAndGlyphs">8.3 Android的多语言支持</text></g>
<g id="e8-1" transform="translate(351.7,947.7)"><rect y="-2" width="55" height="4" rx=".8"/><text x="1" y=".8" textLength="53" lengthAdjust="spacingAndGlyphs">范例 8.1 Android 多语言支持范例（MultiLanguage）</text></g>
</g>
<g id="center">
<rect x="201.7" y="472.7" width="80" height="10" rx="1.5" fill="#4fb884"/>
<text x="204.3" y="479.5">Android系统应用开发实战详解</text>
<path d="M272.5 475.8h4.5M272.5 477.7h4.5M272.5 479.6h3" stroke="#fff" stroke-width=".6" fill="none"/>
</g>
</g>
</svg>
